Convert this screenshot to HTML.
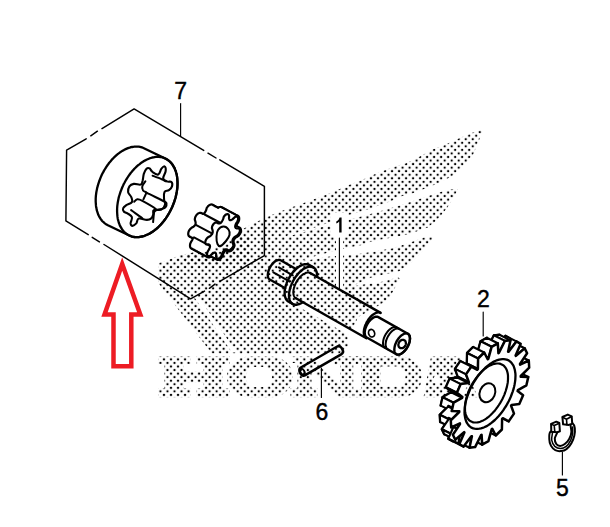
<!DOCTYPE html>
<html><head><meta charset="utf-8"><style>
html,body{margin:0;padding:0;background:#fff;width:610px;height:527px;overflow:hidden}
svg{display:block}
</style></head><body>
<svg width="610" height="527" viewBox="0 0 610 527">
<defs>
<pattern id="dots" patternUnits="userSpaceOnUse" x="6.09" y="0.73" width="7.017" height="7.102"><circle cx="0" cy="0" r="1.15" fill="#000"/><circle cx="7.017" cy="0" r="1.15" fill="#000"/><circle cx="0" cy="7.102" r="1.15" fill="#000"/><circle cx="7.017" cy="7.102" r="1.15" fill="#000"/><circle cx="3.5085" cy="3.551" r="1.15" fill="#000"/></pattern>
<mask id="wm" maskUnits="userSpaceOnUse" x="0" y="0" width="610" height="527">
<polygon points="481.0,131.5 473.0,134.2 456.9,140.9 444.6,146.6 434.2,150.4 417.0,159.8 406.6,164.6 400.0,166.5 379.7,173.7 362.6,181.3 345.5,188.0 330.4,194.6 315.2,200.3 300.0,206.0 277.4,214.2 264.2,219.8 249.0,227.4 242.0,231.4 232.0,239.6 209.0,252.7 192.8,254.3 179.7,256.8 166.6,262.5 160.0,264.2 159.5,282.0 212.5,352.0 338.0,352.5 347.0,347.0 346.0,336.0 352.0,326.0 357.0,316.0 373.0,307.0 387.0,299.0 398.0,279.0 379.5,284.0 370.0,285.0 340.0,290.0 370.0,276.3 381.4,273.5 398.5,269.7 409.8,262.1 421.2,250.7 431.0,238.0 423.1,239.3 408.0,245.0 392.8,249.8 377.6,252.6 355.8,255.9 330.0,258.0 310.0,261.5 287.0,264.0 310.0,256.0 330.0,250.5 345.2,246.8 360.4,243.8 370.0,240.3 379.5,238.4 394.7,235.5 411.7,231.7 427.0,226.0 436.4,218.5 445.9,207.0 451.6,197.6 456.0,190.0 440.8,193.5 430.4,197.0 415.2,202.0 400.0,207.0 390.7,209.6 375.5,214.2 355.8,219.5 330.0,226.5 310.0,232.0 290.0,237.5 272.0,241.0 290.0,233.0 310.0,227.5 330.0,220.5 345.2,214.2 360.4,210.4 375.5,205.0 390.7,199.7 400.0,195.0 411.4,192.1 426.6,186.4 438.0,181.7 451.2,175.0 462.6,164.6 472.1,153.2 475.9,143.7" fill="#fff" stroke="#fff" stroke-width="3" stroke-linejoin="round"/>
<path d="M158,356.5H191V364H158ZM164.5,356.5H184V397.2H164.5ZM158,388.5H191V397.2H158ZM181,371.5H204V382.5H181ZM196.5,356.5H230V364H196.5ZM203.5,356.5H222.5V397.2H203.5ZM196.5,388.5H230V397.2H196.5Z" fill="#fff"/>
<path d="M249,356.5H271A22,20.35 0 0 1 271,397.2H249A22,20.35 0 0 1 249,356.5Z" fill="#fff"/>
<path d="M297.5,356.5H311.5V397.2H297.5ZM290.5,388.5H317.5V397.2H290.5ZM297.5,356.5L312,356.5L353,397.2L339,397.2ZM340,356.5H353V397.2H340ZM333,356.5H361V364.5H333ZM292,356.5H311.5V363H292Z" fill="#fff"/>
<path d="M353.5,356.5H401A21,20.35 0 0 1 401,397.2H353.5Z" fill="#fff"/>
<path d="M431,356.5H460L478,397.2H423.5Z" fill="#fff"/>
<path d="M254,367H264A8,10 0 0 1 264,387H254A8,10 0 0 1 254,367Z" fill="#000"/>
<path d="M353.5,364H361V389H353.5Z M380.5,366.5H397A8.5,10 0 0 1 397,386.5H380.5Z" fill="#000"/>
<path d="M436,372L432,383H441Z" fill="#000"/>
<polygon points="194.5,297.5 198.5,297 236.5,352.5 232,352.5" fill="#000"/>
<polygon points="301.6,302.3 372.1,342.2 369.5,346.8 299.0,306.9" fill="#000"/>
<rect x="331" y="213" width="17" height="24" fill="#000"/>
<rect x="336" y="236" width="7" height="54" fill="#000"/>
</mask>
</defs>
<rect x="0" y="0" width="610" height="527" fill="url(#dots)" mask="url(#wm)"/>
<path d="M134.1,108.9 L203.7,150.4 M208,153.2 L216,158 M219.8,159.8 L264.4,186.4 M264.4,186.4 L264.4,255.6 M264.4,255.6 L219.8,281.4 M215,284.1 L209.4,288.3 M204.5,291.1 L190.6,298.8 M190.6,298.8 L104,244.5 M99.4,241.9 L92.2,237.3 M88.2,234.7 L65.9,220.9 M65.9,220.9 L66.6,150.2 M66.6,150.2 L86.2,138.8 M90.8,135.8 L97.4,131.2 M102,128.6 L134.1,108.9" stroke="#000" fill="none" stroke-width="1.45" stroke-linejoin="round" stroke-linecap="round" stroke-linecap="butt"/>
<line x1="180.6" y1="103.5" x2="180.6" y2="136.2" stroke="#000" fill="none" stroke-width="1.15" stroke-linejoin="round" stroke-linecap="round"/>
<path d="M95.7,200.2 L95.7,198.7 L95.8,197.1 L95.9,195.6 L96.1,194.1 L96.3,192.5 L96.6,190.9 L96.9,189.4 L97.2,187.8 L97.7,186.2 L98.1,184.7 L98.6,183.1 L99.1,181.5 L99.7,180.0 L100.3,178.4 L100.9,176.9 L101.6,175.3 L102.3,173.8 L103.1,172.4 L103.9,170.9 L104.7,169.5 L105.6,168.1 L106.5,166.7 L107.4,165.3 L108.4,164.0 L109.3,162.7 L110.4,161.5 L111.4,160.3 L112.4,159.1 L113.5,158.0 L114.6,156.9 L115.7,155.9 L116.8,154.9 L118.0,153.9 L119.1,153.1 L120.3,152.2 L121.5,151.4 L122.6,150.7 L123.8,150.1 L125.0,149.4 L126.2,148.9 L127.4,148.4 L128.6,147.9 L129.7,147.6 L130.9,147.2 L132.1,147.0 L133.2,146.8 L134.4,146.7 L135.5,146.6 L136.6,146.6 L137.7,146.6 L138.8,146.7 L139.9,146.9 L140.9,147.1 L141.9,147.4 L142.9,147.8 L143.9,148.2 L165.3,158.5 L166.2,159.0 L167.1,159.5 L168.0,160.1 L168.9,160.8 L169.7,161.4 L170.5,162.2 L171.2,163.0 L171.9,163.9 L172.6,164.8 L173.2,165.8 L173.8,166.8 L174.4,167.8 L174.9,168.9 L175.3,170.1 L175.8,171.3 L176.1,172.5 L176.5,173.8 L176.8,175.1 L177.0,176.4 L177.2,177.8 L177.3,179.2 L177.4,180.6 L177.5,182.1 L177.5,183.6 L177.5,185.0 L177.4,186.6 L177.3,188.1 L177.1,189.6 L176.9,191.2 L176.6,192.8 L176.3,194.3 L175.9,195.9 L175.6,197.5 L175.1,199.1 L174.6,200.6 L174.1,202.2 L173.5,203.7 L172.9,205.3 L172.3,206.8 L171.6,208.3 L170.8,209.8 L170.1,211.3 L169.3,212.8 L168.5,214.2 L167.6,215.6 L166.7,217.0 L165.8,218.4 L164.8,219.7 L163.8,221.0 L162.8,222.2 L161.8,223.4 L160.8,224.6 L159.7,225.7 L158.6,226.8 L157.5,227.8 L156.4,228.8 L155.2,229.8 L154.1,230.6 L152.9,231.5 L151.7,232.2 L150.6,233.0 L149.4,233.7 L148.2,234.3 L147.0,234.8 L145.8,235.3 L144.6,235.8 L143.5,236.1 L142.3,236.5 L141.1,236.7 L140.0,236.9 L138.8,237.1 L137.7,237.1 L136.6,237.1 L135.5,237.1 L134.4,237.0 L133.3,236.8 L132.3,236.6 L131.3,236.3 L130.3,235.9 L129.3,235.5 L107.9,225.2 L107.0,224.7 L106.1,224.2 L105.2,223.6 L104.3,222.9 L103.5,222.2 L102.7,221.5 L102.0,220.7 L101.3,219.8 L100.6,218.9 L100.0,217.9 L99.4,216.9 L98.8,215.8 L98.3,214.8 L97.9,213.6 L97.5,212.4 L97.1,211.2 L96.7,209.9 L96.5,208.6 L96.2,207.3 L96.0,205.9 L95.9,204.5 L95.8,203.1 L95.7,201.6Z" stroke="#000" fill="#fff" stroke-width="2.3" stroke-linejoin="round" stroke-linecap="round"/>
<path d="M171.6,208.3 L172.3,206.8 L172.9,205.3 L173.5,203.7 L174.1,202.2 L174.6,200.6 L175.1,199.0 L175.6,197.5 L176.0,195.9 L176.3,194.3 L176.6,192.7 L176.9,191.2 L177.1,189.6 L177.3,188.1 L177.4,186.6 L177.5,185.0 L177.5,183.5 L177.5,182.1 L177.4,180.6 L177.3,179.2 L177.2,177.8 L177.0,176.4 L176.8,175.1 L176.5,173.8 L176.1,172.5 L175.8,171.3 L175.3,170.1 L174.9,169.0 L174.4,167.8 L173.8,166.8 L173.2,165.8 L172.6,164.8 L171.9,163.9 L171.2,163.0 L170.5,162.2 L169.7,161.5 L168.9,160.7 L168.0,160.1 L167.1,159.5 L166.2,159.0 L165.3,158.5 L164.3,158.1 L163.3,157.7 L162.3,157.4 L161.3,157.2 L160.2,157.0 L159.1,156.9 L158.0,156.9 L156.9,156.9 L155.8,156.9 L154.6,157.1 L153.5,157.3 L152.3,157.5 L151.1,157.9 L150.0,158.2 L148.8,158.7 L147.6,159.2 L146.4,159.7 L145.2,160.4 L144.0,161.0 L142.9,161.8 L141.7,162.5 L140.5,163.4 L139.4,164.3 L138.2,165.2 L137.1,166.2 L136.0,167.2 L134.9,168.3 L133.8,169.4 L132.8,170.6 L131.8,171.8 L130.7,173.0 L129.8,174.3 L128.8,175.6 L127.9,177.0 L127.0,178.4 L126.1,179.8 L125.3,181.2 L124.5,182.7 L123.7,184.1 L123.0,185.7 L122.3,187.2 L121.7,188.7 L121.1,190.3 L120.5,191.8 L120.0,193.4 L119.5,195.0 L119.0,196.5 L118.6,198.1 L118.3,199.7 L118.0,201.3 L117.7,202.8 L117.5,204.4 L117.3,205.9 L117.2,207.4 L117.1,209.0 L117.1,210.5 L117.1,211.9 L117.2,213.4 L117.3,214.8 L117.4,216.2 L117.6,217.6 L117.8,218.9 L118.1,220.2 L118.5,221.5 L118.8,222.7 L119.3,223.9 L119.7,225.0 L120.2,226.2 L120.8,227.2 L121.4,228.2 L122.0,229.2 L122.7,230.1 L123.4,231.0 L124.1,231.8 L124.9,232.5 L125.7,233.3 L126.6,233.9 L127.5,234.5 L128.4,235.0 L129.3,235.5 L130.3,235.9 L131.3,236.3 L132.3,236.6 L133.3,236.8 L134.4,237.0 L135.5,237.1 L136.6,237.1 L137.7,237.1 L138.8,237.1 L140.0,236.9 L141.1,236.7 L142.3,236.5 L143.5,236.1 L144.6,235.8 L145.8,235.3 L147.0,234.8 L148.2,234.3 L149.4,233.6 L150.6,233.0 L151.7,232.2 L152.9,231.5 L154.1,230.6 L155.2,229.7 L156.4,228.8 L157.5,227.8 L158.6,226.8 L159.7,225.7 L160.8,224.6 L161.8,223.4 L162.8,222.2 L163.9,221.0 L164.8,219.7 L165.8,218.4 L166.7,217.0 L167.6,215.6 L168.5,214.2 L169.3,212.8 L170.1,211.3 L170.9,209.9 L171.6,208.3Z" stroke="#000" fill="none" stroke-width="2.3" stroke-linejoin="round" stroke-linecap="round"/>
<path d="M164.5,166.4 C165.4,166.8 166.0,168.4 165.7,170.8 C165.5,173.2 163.0,176.2 163.2,178.3 C163.5,180.4 165.4,180.7 167.0,181.4 C168.6,182.2 170.4,181.0 171.4,182.0 C172.4,183.0 172.5,184.8 172.0,186.4 C171.5,188.1 170.4,189.1 168.9,190.2 C167.4,191.3 165.4,190.2 164.5,192.1 C163.5,193.9 164.0,197.1 164.1,199.6 C164.2,202.1 165.7,202.6 165.1,204.6 C164.6,206.6 163.6,208.5 161.3,209.6 C159.1,210.7 155.5,209.2 153.8,210.2 C152.2,211.2 153.7,213.0 153.2,214.6 C152.7,216.2 152.6,217.3 151.3,218.4 C150.1,219.4 149.4,219.8 146.9,219.9 C144.4,219.9 140.9,217.9 138.8,218.6 C136.7,219.3 137.5,221.9 136.3,223.4 C135.0,224.8 133.7,225.9 132.5,225.9 C131.4,225.9 130.8,225.1 130.6,223.4 C130.5,221.6 132.5,219.1 131.9,217.1 C131.3,215.1 129.1,214.5 127.5,213.4 C125.9,212.2 124.6,212.5 123.8,211.5 C122.9,210.5 122.6,209.6 123.1,208.4 C123.6,207.1 124.5,206.5 126.3,205.2 C128.0,204.0 130.9,203.7 131.9,202.1 C132.9,200.5 132.0,199.1 131.3,197.1 C130.5,195.1 128.5,194.2 128.1,192.1 C127.8,189.9 128.3,188.1 129.4,186.4 C130.5,184.8 131.5,184.3 133.8,183.9 C136.0,183.5 138.9,185.2 140.7,184.6 C142.4,183.9 141.9,182.9 142.6,180.8 C143.2,178.7 143.1,176.3 143.8,173.9 C144.6,171.5 145.2,170.0 146.3,168.9 C147.4,167.8 148.2,167.6 149.4,168.3 C150.7,168.9 150.8,170.8 152.6,172.0 C154.3,173.3 156.5,175.2 158.2,174.5 C160.0,173.9 160.1,170.5 161.3,168.9 C162.6,167.3 163.6,166.0 164.5,166.4Z" stroke="#000" fill="none" stroke-width="2.1" stroke-linejoin="round" stroke-linecap="round"/>
<path d="M152.6,175.7 C154.2,176.3 159.6,178.3 161.8,179.3 C164.1,180.2 165.3,181.0 165.9,181.3" stroke="#000" fill="none" stroke-width="2.0" stroke-linejoin="round" stroke-linecap="round"/>
<path d="M145.4,181.3 C144.9,182.1 142.8,184.5 142.4,185.9 C141.9,187.4 142.2,188.9 142.9,190.1 C143.6,191.2 143.0,190.7 146.5,192.6 C150.0,194.5 160.6,199.5 163.9,201.3 C167.2,203.1 166.2,202.4 166.5,203.4 C166.7,204.4 166.2,206.5 165.4,207.5 C164.7,208.4 163.5,208.6 161.8,209.0 C160.2,209.5 156.7,209.9 155.7,210.1" stroke="#000" fill="none" stroke-width="2.0" stroke-linejoin="round" stroke-linecap="round"/>
<path d="M134.2,201.8 C134.7,201.4 135.9,199.5 137.2,199.3 C138.6,199.1 139.3,199.2 142.4,200.8 C145.4,202.4 153.7,207.1 155.7,209.0 C157.7,210.9 154.6,209.9 154.2,212.1 C153.7,214.3 153.3,220.4 153.1,222.1" stroke="#000" fill="none" stroke-width="2.0" stroke-linejoin="round" stroke-linecap="round"/>
<path d="M146.5,192.6 L143.4,199.3" stroke="#000" fill="none" stroke-width="2.0" stroke-linejoin="round" stroke-linecap="round"/>
<path d="M131.1,210.1 C131.8,210.6 133.3,211.8 135.2,213.1 C137.1,214.5 141.2,217.4 142.4,218.3" stroke="#000" fill="none" stroke-width="2.0" stroke-linejoin="round" stroke-linecap="round"/>
<path d="M216.5,233.6 L216.5,232.7 L216.5,232.0 L216.7,231.3 L216.9,230.6 L217.3,230.0 L217.8,229.4 L218.4,228.7 L219.2,228.1 L220.7,227.3 L221.9,226.4 L222.6,225.5 L223.2,224.6 L223.6,223.7 L223.8,222.8 L223.9,221.9 L223.8,221.2 L223.5,220.5 L222.9,220.0 L221.5,220.0 L220.5,219.9 L220.0,219.6 L219.6,219.3 L219.3,218.8 L219.2,218.4 L219.2,217.8 L219.3,217.1 L219.6,216.2 L220.0,215.2 L221.2,213.3 L221.9,211.8 L222.1,210.7 L222.1,209.8 L222.0,209.1 L221.7,208.5 L221.2,208.2 L220.6,208.0 L219.9,208.1 L219.0,208.5 L217.5,209.9 L216.4,210.9 L215.7,211.3 L215.0,211.6 L214.5,211.7 L214.1,211.7 L213.7,211.5 L213.4,211.1 L213.2,210.5 L213.0,209.8 L213.1,207.9 L212.9,206.6 L212.5,206.0 L212.0,205.7 L211.4,205.5 L210.7,205.7 L210.0,206.0 L209.3,206.5 L208.6,207.3 L207.8,208.3 L207.2,210.4 L206.6,211.8 L206.0,212.8 L205.5,213.5 L205.1,214.1 L204.6,214.5 L204.1,214.8 L203.5,215.0 L202.9,215.0 L202.2,215.0 L201.2,214.2 L200.2,213.9 L199.4,214.1 L198.6,214.5 L197.9,215.1 L197.3,215.8 L196.8,216.6 L196.3,217.5 L196.0,218.6 L195.9,219.6 L196.4,221.1 L196.7,222.2 L196.7,223.1 L196.7,223.8 L196.5,224.5 L196.3,225.2 L195.9,225.8 L195.4,226.4 L194.8,227.1 L194.0,227.7 L192.5,228.5 L191.3,229.4 L190.6,230.3 L190.0,231.2 L189.6,232.1 L189.4,233.0 L189.3,233.9 L189.4,234.6 L189.7,235.3 L190.3,235.8 L191.7,235.8 L192.7,235.9 L193.2,236.2 L193.6,236.5 L193.9,237.0 L194.0,237.4 L194.0,238.0 L193.9,238.7 L193.6,239.6 L193.2,240.6 L192.0,242.5 L191.3,244.0 L191.1,245.1 L191.1,246.0 L191.2,246.7 L191.5,247.3 L192.0,247.6 L192.6,247.8 L193.3,247.7 L194.2,247.3 L195.7,245.9 L196.8,244.9 L197.5,244.5 L198.2,244.2 L198.7,244.1 L199.1,244.1 L199.5,244.3 L199.8,244.7 L200.0,245.3 L200.2,246.0 L200.1,247.9 L200.3,249.2 L200.7,249.8 L201.2,250.1 L201.8,250.3 L202.5,250.1 L203.2,249.8 L203.9,249.3 L204.6,248.5 L205.4,247.5 L206.0,245.4 L206.6,244.0 L207.2,243.0 L207.7,242.3 L208.1,241.7 L208.6,241.3 L209.1,241.0 L209.7,240.8 L210.3,240.8 L211.0,240.8 L212.0,241.6 L213.0,241.9 L213.8,241.7 L214.6,241.3 L215.3,240.7 L215.9,240.0 L216.4,239.2 L216.9,238.3 L217.2,237.2 L217.3,236.2 L216.8,234.7Z" stroke="#000" stroke-width="4.4" fill="none" stroke-linejoin="round"/>
<path d="M218.1,234.5 L218.1,233.6 L218.1,232.8 L218.3,232.1 L218.5,231.5 L218.9,230.8 L219.4,230.2 L220.0,229.6 L220.8,228.9 L222.3,228.1 L223.5,227.3 L224.2,226.4 L224.8,225.4 L225.2,224.5 L225.4,223.6 L225.5,222.8 L225.4,222.0 L225.1,221.4 L224.5,220.8 L223.1,220.9 L222.1,220.7 L221.6,220.5 L221.2,220.1 L220.9,219.7 L220.8,219.2 L220.8,218.6 L220.9,217.9 L221.2,217.1 L221.6,216.0 L222.8,214.2 L223.5,212.7 L223.7,211.6 L223.7,210.7 L223.6,209.9 L223.3,209.4 L222.8,209.0 L222.2,208.9 L221.5,208.9 L220.6,209.3 L219.1,210.8 L218.0,211.7 L217.3,212.2 L216.6,212.5 L216.1,212.6 L215.7,212.5 L215.3,212.3 L215.0,212.0 L214.8,211.4 L214.6,210.6 L214.7,208.7 L214.5,207.5 L214.1,206.9 L213.6,206.5 L213.0,206.4 L212.3,206.5 L211.6,206.8 L210.9,207.4 L210.2,208.1 L209.4,209.2 L208.8,211.2 L208.2,212.7 L207.6,213.6 L207.1,214.4 L206.7,214.9 L206.2,215.4 L205.7,215.7 L205.1,215.8 L204.5,215.9 L203.8,215.8 L202.8,215.0 L201.8,214.8 L201.0,215.0 L200.2,215.4 L199.5,215.9 L198.9,216.6 L198.4,217.5 L197.9,218.4 L197.6,219.4 L197.5,220.5 L198.0,221.9 L198.3,223.0 L198.3,223.9 L198.3,224.7 L198.1,225.4 L197.9,226.0 L197.5,226.7 L197.0,227.3 L196.4,227.9 L195.6,228.6 L194.1,229.4 L192.9,230.2 L192.2,231.1 L191.6,232.1 L191.2,233.0 L191.0,233.9 L190.9,234.7 L191.0,235.5 L191.3,236.1 L191.9,236.7 L193.3,236.6 L194.3,236.8 L194.8,237.0 L195.2,237.4 L195.5,237.8 L195.6,238.3 L195.6,238.9 L195.5,239.6 L195.2,240.4 L194.8,241.5 L193.6,243.3 L192.9,244.8 L192.7,245.9 L192.7,246.8 L192.8,247.6 L193.1,248.1 L193.6,248.5 L194.2,248.6 L194.9,248.6 L195.8,248.2 L197.3,246.7 L198.4,245.8 L199.1,245.3 L199.8,245.0 L200.3,244.9 L200.7,245.0 L201.1,245.2 L201.4,245.5 L201.6,246.1 L201.8,246.9 L201.7,248.8 L201.9,250.0 L202.3,250.6 L202.8,251.0 L203.4,251.1 L204.1,251.0 L204.8,250.7 L205.5,250.1 L206.2,249.4 L207.0,248.3 L207.6,246.3 L208.2,244.8 L208.8,243.9 L209.3,243.1 L209.7,242.6 L210.2,242.1 L210.7,241.8 L211.3,241.7 L211.9,241.6 L212.6,241.7 L213.6,242.5 L214.6,242.7 L215.4,242.5 L216.2,242.1 L216.9,241.6 L217.5,240.9 L218.0,240.0 L218.5,239.1 L218.8,238.1 L218.9,237.0 L218.4,235.6Z" stroke="#000" stroke-width="4.4" fill="none" stroke-linejoin="round"/>
<path d="M219.7,235.3 L219.7,234.4 L219.7,233.7 L219.9,233.0 L220.1,232.3 L220.5,231.7 L221.0,231.1 L221.6,230.4 L222.4,229.8 L223.9,229.0 L225.1,228.1 L225.8,227.2 L226.4,226.3 L226.8,225.4 L227.0,224.5 L227.1,223.6 L227.0,222.9 L226.7,222.2 L226.1,221.7 L224.7,221.7 L223.7,221.6 L223.2,221.3 L222.8,221.0 L222.5,220.5 L222.4,220.1 L222.4,219.5 L222.5,218.8 L222.8,217.9 L223.2,216.9 L224.4,215.0 L225.1,213.5 L225.3,212.4 L225.3,211.5 L225.2,210.8 L224.9,210.2 L224.4,209.9 L223.8,209.7 L223.1,209.8 L222.2,210.2 L220.7,211.6 L219.6,212.6 L218.9,213.0 L218.2,213.3 L217.7,213.4 L217.3,213.4 L216.9,213.2 L216.6,212.8 L216.4,212.2 L216.2,211.5 L216.3,209.6 L216.1,208.3 L215.7,207.7 L215.2,207.4 L214.6,207.2 L213.9,207.4 L213.2,207.7 L212.5,208.2 L211.8,209.0 L211.0,210.0 L210.4,212.1 L209.8,213.5 L209.2,214.5 L208.7,215.2 L208.3,215.8 L207.8,216.2 L207.3,216.5 L206.7,216.7 L206.1,216.7 L205.4,216.7 L204.4,215.9 L203.4,215.6 L202.6,215.8 L201.8,216.2 L201.1,216.8 L200.5,217.5 L200.0,218.3 L199.5,219.2 L199.2,220.3 L199.1,221.3 L199.6,222.8 L199.9,223.9 L199.9,224.8 L199.9,225.5 L199.7,226.2 L199.5,226.9 L199.1,227.5 L198.6,228.1 L198.0,228.8 L197.2,229.4 L195.7,230.2 L194.5,231.1 L193.8,232.0 L193.2,232.9 L192.8,233.8 L192.6,234.7 L192.5,235.6 L192.6,236.3 L192.9,237.0 L193.5,237.5 L194.9,237.5 L195.9,237.6 L196.4,237.9 L196.8,238.2 L197.1,238.7 L197.2,239.1 L197.2,239.7 L197.1,240.4 L196.8,241.3 L196.4,242.3 L195.2,244.2 L194.5,245.7 L194.3,246.8 L194.3,247.7 L194.4,248.4 L194.7,249.0 L195.2,249.3 L195.8,249.5 L196.5,249.4 L197.4,249.0 L198.9,247.6 L200.0,246.6 L200.7,246.2 L201.4,245.9 L201.9,245.8 L202.3,245.8 L202.7,246.0 L203.0,246.4 L203.2,247.0 L203.4,247.7 L203.3,249.6 L203.5,250.9 L203.9,251.5 L204.4,251.8 L205.0,252.0 L205.7,251.8 L206.4,251.5 L207.1,251.0 L207.8,250.2 L208.6,249.2 L209.2,247.1 L209.8,245.7 L210.4,244.7 L210.9,244.0 L211.3,243.4 L211.8,243.0 L212.3,242.7 L212.9,242.5 L213.5,242.5 L214.2,242.5 L215.2,243.3 L216.2,243.6 L217.0,243.4 L217.8,243.0 L218.5,242.4 L219.1,241.7 L219.6,240.9 L220.1,240.0 L220.4,238.9 L220.5,237.9 L220.0,236.4Z" stroke="#000" stroke-width="4.4" fill="none" stroke-linejoin="round"/>
<path d="M221.3,236.2 L221.3,235.3 L221.3,234.5 L221.5,233.8 L221.7,233.2 L222.1,232.5 L222.6,231.9 L223.2,231.3 L224.0,230.6 L225.5,229.8 L226.7,229.0 L227.4,228.1 L228.0,227.1 L228.4,226.2 L228.6,225.3 L228.7,224.5 L228.6,223.7 L228.3,223.1 L227.7,222.5 L226.3,222.6 L225.3,222.4 L224.8,222.2 L224.4,221.8 L224.1,221.4 L224.0,220.9 L224.0,220.3 L224.1,219.6 L224.4,218.8 L224.8,217.7 L226.0,215.9 L226.7,214.4 L226.9,213.3 L226.9,212.4 L226.8,211.6 L226.5,211.1 L226.0,210.7 L225.4,210.6 L224.7,210.6 L223.8,211.0 L222.3,212.5 L221.2,213.4 L220.5,213.9 L219.8,214.2 L219.3,214.3 L218.9,214.2 L218.5,214.0 L218.2,213.7 L218.0,213.1 L217.8,212.3 L217.9,210.4 L217.7,209.2 L217.3,208.6 L216.8,208.2 L216.2,208.1 L215.5,208.2 L214.8,208.5 L214.1,209.1 L213.4,209.8 L212.6,210.9 L212.0,212.9 L211.4,214.4 L210.8,215.3 L210.3,216.1 L209.9,216.6 L209.4,217.1 L208.9,217.4 L208.3,217.5 L207.7,217.6 L207.0,217.5 L206.0,216.7 L205.0,216.5 L204.2,216.7 L203.4,217.1 L202.7,217.6 L202.1,218.3 L201.6,219.2 L201.1,220.1 L200.8,221.1 L200.7,222.2 L201.2,223.6 L201.5,224.7 L201.5,225.6 L201.5,226.4 L201.3,227.1 L201.1,227.7 L200.7,228.4 L200.2,229.0 L199.6,229.6 L198.8,230.3 L197.3,231.1 L196.1,231.9 L195.4,232.8 L194.8,233.8 L194.4,234.7 L194.2,235.6 L194.1,236.4 L194.2,237.2 L194.5,237.8 L195.1,238.4 L196.5,238.3 L197.5,238.5 L198.0,238.7 L198.4,239.1 L198.7,239.5 L198.8,240.0 L198.8,240.6 L198.7,241.3 L198.4,242.1 L198.0,243.2 L196.8,245.0 L196.1,246.5 L195.9,247.6 L195.9,248.5 L196.0,249.3 L196.3,249.8 L196.8,250.2 L197.4,250.3 L198.1,250.3 L199.0,249.9 L200.5,248.4 L201.6,247.5 L202.3,247.0 L203.0,246.7 L203.5,246.6 L203.9,246.7 L204.3,246.9 L204.6,247.2 L204.8,247.8 L205.0,248.6 L204.9,250.5 L205.1,251.7 L205.5,252.3 L206.0,252.7 L206.6,252.8 L207.3,252.7 L208.0,252.4 L208.7,251.8 L209.4,251.1 L210.2,250.0 L210.8,248.0 L211.4,246.5 L212.0,245.6 L212.5,244.8 L212.9,244.3 L213.4,243.8 L213.9,243.5 L214.5,243.4 L215.1,243.3 L215.8,243.4 L216.8,244.2 L217.8,244.4 L218.6,244.2 L219.4,243.8 L220.1,243.3 L220.7,242.6 L221.2,241.7 L221.7,240.8 L222.0,239.8 L222.1,238.7 L221.6,237.3Z" stroke="#000" stroke-width="4.4" fill="none" stroke-linejoin="round"/>
<path d="M222.9,237.0 L222.9,236.1 L222.9,235.4 L223.1,234.7 L223.3,234.0 L223.7,233.4 L224.2,232.8 L224.8,232.1 L225.6,231.5 L227.1,230.7 L228.3,229.8 L229.0,228.9 L229.6,228.0 L230.0,227.1 L230.2,226.2 L230.3,225.3 L230.2,224.6 L229.9,223.9 L229.3,223.4 L227.9,223.4 L226.9,223.3 L226.4,223.0 L226.0,222.7 L225.7,222.2 L225.6,221.8 L225.6,221.2 L225.7,220.5 L226.0,219.6 L226.4,218.6 L227.6,216.7 L228.3,215.2 L228.5,214.1 L228.5,213.2 L228.4,212.5 L228.1,211.9 L227.6,211.6 L227.0,211.4 L226.3,211.5 L225.4,211.9 L223.9,213.3 L222.8,214.3 L222.1,214.7 L221.4,215.0 L220.9,215.1 L220.5,215.1 L220.1,214.9 L219.8,214.5 L219.6,213.9 L219.4,213.2 L219.5,211.3 L219.3,210.0 L218.9,209.4 L218.4,209.1 L217.8,208.9 L217.1,209.1 L216.4,209.4 L215.7,209.9 L215.0,210.7 L214.2,211.7 L213.6,213.8 L213.0,215.2 L212.4,216.2 L211.9,216.9 L211.5,217.5 L211.0,217.9 L210.5,218.2 L209.9,218.4 L209.3,218.4 L208.6,218.4 L207.6,217.6 L206.6,217.3 L205.8,217.5 L205.0,217.9 L204.3,218.5 L203.7,219.2 L203.2,220.0 L202.7,220.9 L202.4,222.0 L202.3,223.0 L202.8,224.5 L203.1,225.6 L203.1,226.5 L203.1,227.2 L202.9,227.9 L202.7,228.6 L202.3,229.2 L201.8,229.8 L201.2,230.5 L200.4,231.1 L198.9,231.9 L197.7,232.8 L197.0,233.7 L196.4,234.6 L196.0,235.5 L195.8,236.4 L195.7,237.3 L195.8,238.0 L196.1,238.7 L196.7,239.2 L198.1,239.2 L199.1,239.3 L199.6,239.6 L200.0,239.9 L200.3,240.4 L200.4,240.8 L200.4,241.4 L200.3,242.1 L200.0,243.0 L199.6,244.0 L198.4,245.9 L197.7,247.4 L197.5,248.5 L197.5,249.4 L197.6,250.1 L197.9,250.7 L198.4,251.0 L199.0,251.2 L199.7,251.1 L200.6,250.7 L202.1,249.3 L203.2,248.3 L203.9,247.9 L204.6,247.6 L205.1,247.5 L205.5,247.5 L205.9,247.7 L206.2,248.1 L206.4,248.7 L206.6,249.4 L206.5,251.3 L206.7,252.6 L207.1,253.2 L207.6,253.5 L208.2,253.7 L208.9,253.5 L209.6,253.2 L210.3,252.7 L211.0,251.9 L211.8,250.9 L212.4,248.8 L213.0,247.4 L213.6,246.4 L214.1,245.7 L214.5,245.1 L215.0,244.7 L215.5,244.4 L216.1,244.2 L216.7,244.2 L217.4,244.2 L218.4,245.0 L219.4,245.3 L220.2,245.1 L221.0,244.7 L221.7,244.1 L222.3,243.4 L222.8,242.6 L223.3,241.7 L223.6,240.6 L223.7,239.6 L223.2,238.1Z" stroke="#000" stroke-width="4.4" fill="none" stroke-linejoin="round"/>
<path d="M224.5,237.9 L224.5,237.0 L224.5,236.2 L224.7,235.5 L224.9,234.9 L225.3,234.2 L225.8,233.6 L226.4,233.0 L227.2,232.3 L228.7,231.5 L229.9,230.7 L230.6,229.8 L231.2,228.8 L231.6,227.9 L231.8,227.0 L231.9,226.2 L231.8,225.4 L231.5,224.8 L230.9,224.2 L229.5,224.3 L228.5,224.1 L228.0,223.9 L227.6,223.5 L227.3,223.1 L227.2,222.6 L227.2,222.0 L227.3,221.3 L227.6,220.5 L228.0,219.4 L229.2,217.6 L229.9,216.1 L230.1,215.0 L230.1,214.1 L230.0,213.3 L229.7,212.8 L229.2,212.4 L228.6,212.3 L227.9,212.3 L227.0,212.7 L225.5,214.2 L224.4,215.1 L223.7,215.6 L223.0,215.9 L222.5,216.0 L222.1,215.9 L221.7,215.7 L221.4,215.4 L221.2,214.8 L221.0,214.0 L221.1,212.1 L220.9,210.9 L220.5,210.3 L220.0,209.9 L219.4,209.8 L218.7,209.9 L218.0,210.2 L217.3,210.8 L216.6,211.5 L215.8,212.6 L215.2,214.6 L214.6,216.1 L214.0,217.0 L213.5,217.8 L213.1,218.3 L212.6,218.8 L212.1,219.1 L211.5,219.2 L210.9,219.3 L210.2,219.2 L209.2,218.4 L208.2,218.2 L207.4,218.4 L206.6,218.8 L205.9,219.3 L205.3,220.0 L204.8,220.9 L204.3,221.8 L204.0,222.8 L203.9,223.9 L204.4,225.3 L204.7,226.4 L204.7,227.3 L204.7,228.1 L204.5,228.8 L204.3,229.4 L203.9,230.1 L203.4,230.7 L202.8,231.3 L202.0,232.0 L200.5,232.8 L199.3,233.6 L198.6,234.5 L198.0,235.5 L197.6,236.4 L197.4,237.3 L197.3,238.1 L197.4,238.9 L197.7,239.5 L198.3,240.1 L199.7,240.0 L200.7,240.2 L201.2,240.4 L201.6,240.8 L201.9,241.2 L202.0,241.7 L202.0,242.3 L201.9,243.0 L201.6,243.8 L201.2,244.9 L200.0,246.7 L199.3,248.2 L199.1,249.3 L199.1,250.2 L199.2,251.0 L199.5,251.5 L200.0,251.9 L200.6,252.0 L201.3,252.0 L202.2,251.6 L203.7,250.1 L204.8,249.2 L205.5,248.7 L206.2,248.4 L206.7,248.3 L207.1,248.4 L207.5,248.6 L207.8,248.9 L208.0,249.5 L208.2,250.3 L208.1,252.2 L208.3,253.4 L208.7,254.0 L209.2,254.4 L209.8,254.5 L210.5,254.4 L211.2,254.1 L211.9,253.5 L212.6,252.8 L213.4,251.7 L214.0,249.7 L214.6,248.2 L215.2,247.3 L215.7,246.5 L216.1,246.0 L216.6,245.5 L217.1,245.2 L217.7,245.1 L218.3,245.0 L219.0,245.1 L220.0,245.9 L221.0,246.1 L221.8,245.9 L222.6,245.5 L223.3,245.0 L223.9,244.3 L224.4,243.4 L224.9,242.5 L225.2,241.5 L225.3,240.4 L224.8,239.0Z" stroke="#000" stroke-width="4.4" fill="none" stroke-linejoin="round"/>
<path d="M226.1,238.7 L226.1,237.8 L226.1,237.1 L226.3,236.4 L226.5,235.7 L226.9,235.1 L227.4,234.5 L228.0,233.8 L228.8,233.2 L230.3,232.4 L231.5,231.5 L232.2,230.6 L232.8,229.7 L233.2,228.8 L233.4,227.9 L233.5,227.0 L233.4,226.3 L233.1,225.6 L232.5,225.1 L231.1,225.1 L230.1,225.0 L229.6,224.7 L229.2,224.4 L228.9,223.9 L228.8,223.5 L228.8,222.9 L228.9,222.2 L229.2,221.3 L229.6,220.3 L230.8,218.4 L231.5,216.9 L231.7,215.8 L231.7,214.9 L231.6,214.2 L231.3,213.6 L230.8,213.3 L230.2,213.1 L229.5,213.2 L228.6,213.6 L227.1,215.0 L226.0,216.0 L225.3,216.4 L224.6,216.7 L224.1,216.8 L223.7,216.8 L223.3,216.6 L223.0,216.2 L222.8,215.6 L222.6,214.9 L222.7,213.0 L222.5,211.7 L222.1,211.1 L221.6,210.8 L221.0,210.6 L220.3,210.8 L219.6,211.1 L218.9,211.6 L218.2,212.4 L217.4,213.4 L216.8,215.5 L216.2,216.9 L215.6,217.9 L215.1,218.6 L214.7,219.2 L214.2,219.6 L213.7,219.9 L213.1,220.1 L212.5,220.1 L211.8,220.1 L210.8,219.3 L209.8,219.0 L209.0,219.2 L208.2,219.6 L207.5,220.2 L206.9,220.9 L206.4,221.7 L205.9,222.6 L205.6,223.7 L205.5,224.7 L206.0,226.2 L206.3,227.3 L206.3,228.2 L206.3,228.9 L206.1,229.6 L205.9,230.3 L205.5,230.9 L205.0,231.5 L204.4,232.2 L203.6,232.8 L202.1,233.6 L200.9,234.5 L200.2,235.4 L199.6,236.3 L199.2,237.2 L199.0,238.1 L198.9,239.0 L199.0,239.7 L199.3,240.4 L199.9,240.9 L201.3,240.9 L202.3,241.0 L202.8,241.3 L203.2,241.6 L203.5,242.1 L203.6,242.5 L203.6,243.1 L203.5,243.8 L203.2,244.7 L202.8,245.7 L201.6,247.6 L200.9,249.1 L200.7,250.2 L200.7,251.1 L200.8,251.8 L201.1,252.4 L201.6,252.7 L202.2,252.9 L202.9,252.8 L203.8,252.4 L205.3,251.0 L206.4,250.0 L207.1,249.6 L207.8,249.3 L208.3,249.2 L208.7,249.2 L209.1,249.4 L209.4,249.8 L209.6,250.4 L209.8,251.1 L209.7,253.0 L209.9,254.3 L210.3,254.9 L210.8,255.2 L211.4,255.4 L212.1,255.2 L212.8,254.9 L213.5,254.4 L214.2,253.6 L215.0,252.6 L215.6,250.5 L216.2,249.1 L216.8,248.1 L217.3,247.4 L217.7,246.8 L218.2,246.4 L218.7,246.1 L219.3,245.9 L219.9,245.9 L220.6,245.9 L221.6,246.7 L222.6,247.0 L223.4,246.8 L224.2,246.4 L224.9,245.8 L225.5,245.1 L226.0,244.3 L226.5,243.4 L226.8,242.3 L226.9,241.3 L226.4,239.8Z" stroke="#000" stroke-width="4.4" fill="none" stroke-linejoin="round"/>
<path d="M227.7,239.6 L227.7,238.7 L227.7,237.9 L227.9,237.2 L228.1,236.6 L228.5,235.9 L229.0,235.3 L229.6,234.7 L230.4,234.0 L231.9,233.2 L233.1,232.4 L233.8,231.5 L234.4,230.5 L234.8,229.6 L235.0,228.7 L235.1,227.9 L235.0,227.1 L234.7,226.5 L234.1,225.9 L232.7,226.0 L231.7,225.8 L231.2,225.6 L230.8,225.2 L230.5,224.8 L230.4,224.3 L230.4,223.7 L230.5,223.0 L230.8,222.2 L231.2,221.1 L232.4,219.3 L233.1,217.8 L233.3,216.7 L233.3,215.8 L233.2,215.0 L232.9,214.5 L232.4,214.1 L231.8,214.0 L231.1,214.0 L230.2,214.4 L228.7,215.9 L227.6,216.8 L226.9,217.3 L226.2,217.6 L225.7,217.7 L225.3,217.6 L224.9,217.4 L224.6,217.1 L224.4,216.5 L224.2,215.7 L224.3,213.8 L224.1,212.6 L223.7,212.0 L223.2,211.6 L222.6,211.5 L221.9,211.6 L221.2,211.9 L220.5,212.5 L219.8,213.2 L219.0,214.3 L218.4,216.3 L217.8,217.8 L217.2,218.7 L216.7,219.5 L216.3,220.0 L215.8,220.5 L215.3,220.8 L214.7,220.9 L214.1,221.0 L213.4,220.9 L212.4,220.1 L211.4,219.9 L210.6,220.1 L209.8,220.5 L209.1,221.0 L208.5,221.7 L208.0,222.6 L207.5,223.5 L207.2,224.5 L207.1,225.6 L207.6,227.0 L207.9,228.1 L207.9,229.0 L207.9,229.8 L207.7,230.5 L207.5,231.1 L207.1,231.8 L206.6,232.4 L206.0,233.0 L205.2,233.7 L203.7,234.5 L202.5,235.3 L201.8,236.2 L201.2,237.2 L200.8,238.1 L200.6,239.0 L200.5,239.8 L200.6,240.6 L200.9,241.2 L201.5,241.8 L202.9,241.7 L203.9,241.9 L204.4,242.1 L204.8,242.5 L205.1,242.9 L205.2,243.4 L205.2,244.0 L205.1,244.7 L204.8,245.5 L204.4,246.6 L203.2,248.4 L202.5,249.9 L202.3,251.0 L202.3,251.9 L202.4,252.7 L202.7,253.2 L203.2,253.6 L203.8,253.7 L204.5,253.7 L205.4,253.3 L206.9,251.8 L208.0,250.9 L208.7,250.4 L209.4,250.1 L209.9,250.0 L210.3,250.1 L210.7,250.3 L211.0,250.6 L211.2,251.2 L211.4,252.0 L211.3,253.9 L211.5,255.1 L211.9,255.7 L212.4,256.1 L213.0,256.2 L213.7,256.1 L214.4,255.8 L215.1,255.2 L215.8,254.5 L216.6,253.4 L217.2,251.4 L217.8,249.9 L218.4,249.0 L218.9,248.2 L219.3,247.7 L219.8,247.2 L220.3,246.9 L220.9,246.8 L221.5,246.7 L222.2,246.8 L223.2,247.6 L224.2,247.8 L225.0,247.6 L225.8,247.2 L226.5,246.7 L227.1,246.0 L227.6,245.1 L228.1,244.2 L228.4,243.2 L228.5,242.1 L228.0,240.7Z" stroke="#000" stroke-width="4.4" fill="none" stroke-linejoin="round"/>
<path d="M229.3,240.4 L229.3,239.5 L229.3,238.8 L229.5,238.1 L229.7,237.4 L230.1,236.8 L230.6,236.2 L231.2,235.5 L232.0,234.9 L233.5,234.1 L234.7,233.2 L235.4,232.3 L236.0,231.4 L236.4,230.5 L236.6,229.6 L236.7,228.7 L236.6,228.0 L236.3,227.3 L235.7,226.8 L234.3,226.8 L233.3,226.7 L232.8,226.4 L232.4,226.1 L232.1,225.6 L232.0,225.2 L232.0,224.6 L232.1,223.9 L232.4,223.0 L232.8,222.0 L234.0,220.1 L234.7,218.6 L234.9,217.5 L234.9,216.6 L234.8,215.9 L234.5,215.3 L234.0,215.0 L233.4,214.8 L232.7,214.9 L231.8,215.3 L230.3,216.7 L229.2,217.7 L228.5,218.1 L227.8,218.4 L227.3,218.5 L226.9,218.5 L226.5,218.3 L226.2,217.9 L226.0,217.3 L225.8,216.6 L225.9,214.7 L225.7,213.4 L225.3,212.8 L224.8,212.5 L224.2,212.3 L223.5,212.5 L222.8,212.8 L222.1,213.3 L221.4,214.1 L220.6,215.1 L220.0,217.2 L219.4,218.6 L218.8,219.6 L218.3,220.3 L217.9,220.9 L217.4,221.3 L216.9,221.6 L216.3,221.8 L215.7,221.8 L215.0,221.8 L214.0,221.0 L213.0,220.7 L212.2,220.9 L211.4,221.3 L210.7,221.9 L210.1,222.6 L209.6,223.4 L209.1,224.3 L208.8,225.4 L208.7,226.4 L209.2,227.9 L209.5,229.0 L209.5,229.9 L209.5,230.6 L209.3,231.3 L209.1,232.0 L208.7,232.6 L208.2,233.2 L207.6,233.9 L206.8,234.5 L205.3,235.3 L204.1,236.2 L203.4,237.1 L202.8,238.0 L202.4,238.9 L202.2,239.8 L202.1,240.7 L202.2,241.4 L202.5,242.1 L203.1,242.6 L204.5,242.6 L205.5,242.7 L206.0,243.0 L206.4,243.3 L206.7,243.8 L206.8,244.2 L206.8,244.8 L206.7,245.5 L206.4,246.4 L206.0,247.4 L204.8,249.3 L204.1,250.8 L203.9,251.9 L203.9,252.8 L204.0,253.5 L204.3,254.1 L204.8,254.4 L205.4,254.6 L206.1,254.5 L207.0,254.1 L208.5,252.7 L209.6,251.7 L210.3,251.3 L211.0,251.0 L211.5,250.9 L211.9,250.9 L212.3,251.1 L212.6,251.5 L212.8,252.1 L213.0,252.8 L212.9,254.7 L213.1,256.0 L213.5,256.6 L214.0,256.9 L214.6,257.1 L215.3,256.9 L216.0,256.6 L216.7,256.1 L217.4,255.3 L218.2,254.3 L218.8,252.2 L219.4,250.8 L220.0,249.8 L220.5,249.1 L220.9,248.5 L221.4,248.1 L221.9,247.8 L222.5,247.6 L223.1,247.6 L223.8,247.6 L224.8,248.4 L225.8,248.7 L226.6,248.5 L227.4,248.1 L228.1,247.5 L228.7,246.8 L229.2,246.0 L229.7,245.1 L230.0,244.0 L230.1,243.0 L229.6,241.5Z" stroke="#000" stroke-width="4.4" fill="none" stroke-linejoin="round"/>
<path d="M230.9,241.3 L230.9,240.4 L230.9,239.6 L231.1,238.9 L231.3,238.3 L231.7,237.6 L232.2,237.0 L232.8,236.4 L233.6,235.7 L235.1,234.9 L236.3,234.1 L237.0,233.2 L237.6,232.2 L238.0,231.3 L238.2,230.4 L238.3,229.6 L238.2,228.8 L237.9,228.2 L237.3,227.6 L235.9,227.7 L234.9,227.5 L234.4,227.3 L234.0,226.9 L233.7,226.5 L233.6,226.0 L233.6,225.4 L233.7,224.7 L234.0,223.9 L234.4,222.8 L235.6,221.0 L236.3,219.5 L236.5,218.4 L236.5,217.5 L236.4,216.7 L236.1,216.2 L235.6,215.8 L235.0,215.7 L234.3,215.7 L233.4,216.1 L231.9,217.6 L230.8,218.5 L230.1,219.0 L229.4,219.3 L228.9,219.4 L228.5,219.3 L228.1,219.1 L227.8,218.8 L227.6,218.2 L227.4,217.4 L227.5,215.5 L227.3,214.3 L226.9,213.7 L226.4,213.3 L225.8,213.2 L225.1,213.3 L224.4,213.6 L223.7,214.2 L223.0,214.9 L222.2,216.0 L221.6,218.0 L221.0,219.5 L220.4,220.4 L219.9,221.2 L219.5,221.7 L219.0,222.2 L218.5,222.5 L217.9,222.6 L217.3,222.7 L216.6,222.6 L215.6,221.8 L214.6,221.6 L213.8,221.8 L213.0,222.2 L212.3,222.7 L211.7,223.4 L211.2,224.3 L210.7,225.2 L210.4,226.2 L210.3,227.3 L210.8,228.7 L211.1,229.8 L211.1,230.7 L211.1,231.5 L210.9,232.2 L210.7,232.8 L210.3,233.5 L209.8,234.1 L209.2,234.7 L208.4,235.4 L206.9,236.2 L205.7,237.0 L205.0,237.9 L204.4,238.9 L204.0,239.8 L203.8,240.7 L203.7,241.5 L203.8,242.3 L204.1,242.9 L204.7,243.5 L206.1,243.4 L207.1,243.6 L207.6,243.8 L208.0,244.2 L208.3,244.6 L208.4,245.1 L208.4,245.7 L208.3,246.4 L208.0,247.2 L207.6,248.3 L206.4,250.1 L205.7,251.6 L205.5,252.7 L205.5,253.6 L205.6,254.4 L205.9,254.9 L206.4,255.3 L207.0,255.4 L207.7,255.4 L208.6,255.0 L210.1,253.5 L211.2,252.6 L211.9,252.1 L212.6,251.8 L213.1,251.7 L213.5,251.8 L213.9,252.0 L214.2,252.3 L214.4,252.9 L214.6,253.7 L214.5,255.6 L214.7,256.8 L215.1,257.4 L215.6,257.8 L216.2,257.9 L216.9,257.8 L217.6,257.5 L218.3,256.9 L219.0,256.2 L219.8,255.1 L220.4,253.1 L221.0,251.6 L221.6,250.7 L222.1,249.9 L222.5,249.4 L223.0,248.9 L223.5,248.6 L224.1,248.5 L224.7,248.4 L225.4,248.5 L226.4,249.3 L227.4,249.5 L228.2,249.3 L229.0,248.9 L229.7,248.4 L230.3,247.7 L230.8,246.8 L231.3,245.9 L231.6,244.9 L231.7,243.8 L231.2,242.4Z" stroke="#000" stroke-width="4.4" fill="none" stroke-linejoin="round"/>
<path d="M232.5,242.1 L232.5,241.2 L232.5,240.5 L232.7,239.8 L232.9,239.1 L233.3,238.5 L233.8,237.9 L234.4,237.2 L235.2,236.6 L236.7,235.8 L237.9,234.9 L238.6,234.0 L239.2,233.1 L239.6,232.2 L239.8,231.3 L239.9,230.4 L239.8,229.7 L239.5,229.0 L238.9,228.5 L237.5,228.5 L236.5,228.4 L236.0,228.1 L235.6,227.8 L235.3,227.3 L235.2,226.9 L235.2,226.3 L235.3,225.6 L235.6,224.7 L236.0,223.7 L237.2,221.8 L237.9,220.3 L238.1,219.2 L238.1,218.3 L238.0,217.6 L237.7,217.0 L237.2,216.7 L236.6,216.5 L235.9,216.6 L235.0,217.0 L233.5,218.4 L232.4,219.4 L231.7,219.8 L231.0,220.1 L230.5,220.2 L230.1,220.2 L229.7,220.0 L229.4,219.6 L229.2,219.0 L229.0,218.3 L229.1,216.4 L228.9,215.1 L228.5,214.5 L228.0,214.2 L227.4,214.0 L226.7,214.2 L226.0,214.5 L225.3,215.0 L224.6,215.8 L223.8,216.8 L223.2,218.9 L222.6,220.3 L222.0,221.3 L221.5,222.0 L221.1,222.6 L220.6,223.0 L220.1,223.3 L219.5,223.5 L218.9,223.5 L218.2,223.5 L217.2,222.7 L216.2,222.4 L215.4,222.6 L214.6,223.0 L213.9,223.6 L213.3,224.3 L212.8,225.1 L212.3,226.0 L212.0,227.1 L211.9,228.1 L212.4,229.6 L212.7,230.7 L212.7,231.6 L212.7,232.3 L212.5,233.0 L212.3,233.7 L211.9,234.3 L211.4,234.9 L210.8,235.6 L210.0,236.2 L208.5,237.0 L207.3,237.9 L206.6,238.8 L206.0,239.7 L205.6,240.6 L205.4,241.5 L205.3,242.4 L205.4,243.1 L205.7,243.8 L206.3,244.3 L207.7,244.3 L208.7,244.4 L209.2,244.7 L209.6,245.0 L209.9,245.5 L210.0,245.9 L210.0,246.5 L209.9,247.2 L209.6,248.1 L209.2,249.1 L208.0,251.0 L207.3,252.5 L207.1,253.6 L207.1,254.5 L207.2,255.2 L207.5,255.8 L208.0,256.1 L208.6,256.3 L209.3,256.2 L210.2,255.8 L211.7,254.4 L212.8,253.4 L213.5,253.0 L214.2,252.7 L214.7,252.6 L215.1,252.6 L215.5,252.8 L215.8,253.2 L216.0,253.8 L216.2,254.5 L216.1,256.4 L216.3,257.7 L216.7,258.3 L217.2,258.6 L217.8,258.8 L218.5,258.6 L219.2,258.3 L219.9,257.8 L220.6,257.0 L221.4,256.0 L222.0,253.9 L222.6,252.5 L223.2,251.5 L223.7,250.8 L224.1,250.2 L224.6,249.8 L225.1,249.5 L225.7,249.3 L226.3,249.3 L227.0,249.3 L228.0,250.1 L229.0,250.4 L229.8,250.2 L230.6,249.8 L231.3,249.2 L231.9,248.5 L232.4,247.7 L232.9,246.8 L233.2,245.7 L233.3,244.7 L232.8,243.2Z" stroke="#000" stroke-width="4.4" fill="none" stroke-linejoin="round"/>
<path d="M216.5,233.6 L216.5,232.7 L216.5,232.0 L216.7,231.3 L216.9,230.6 L217.3,230.0 L217.8,229.4 L218.4,228.7 L219.2,228.1 L220.7,227.3 L221.9,226.4 L222.6,225.5 L223.2,224.6 L223.6,223.7 L223.8,222.8 L223.9,221.9 L223.8,221.2 L223.5,220.5 L222.9,220.0 L221.5,220.0 L220.5,219.9 L220.0,219.6 L219.6,219.3 L219.3,218.8 L219.2,218.4 L219.2,217.8 L219.3,217.1 L219.6,216.2 L220.0,215.2 L221.2,213.3 L221.9,211.8 L222.1,210.7 L222.1,209.8 L222.0,209.1 L221.7,208.5 L221.2,208.2 L220.6,208.0 L219.9,208.1 L219.0,208.5 L217.5,209.9 L216.4,210.9 L215.7,211.3 L215.0,211.6 L214.5,211.7 L214.1,211.7 L213.7,211.5 L213.4,211.1 L213.2,210.5 L213.0,209.8 L213.1,207.9 L212.9,206.6 L212.5,206.0 L212.0,205.7 L211.4,205.5 L210.7,205.7 L210.0,206.0 L209.3,206.5 L208.6,207.3 L207.8,208.3 L207.2,210.4 L206.6,211.8 L206.0,212.8 L205.5,213.5 L205.1,214.1 L204.6,214.5 L204.1,214.8 L203.5,215.0 L202.9,215.0 L202.2,215.0 L201.2,214.2 L200.2,213.9 L199.4,214.1 L198.6,214.5 L197.9,215.1 L197.3,215.8 L196.8,216.6 L196.3,217.5 L196.0,218.6 L195.9,219.6 L196.4,221.1 L196.7,222.2 L196.7,223.1 L196.7,223.8 L196.5,224.5 L196.3,225.2 L195.9,225.8 L195.4,226.4 L194.8,227.1 L194.0,227.7 L192.5,228.5 L191.3,229.4 L190.6,230.3 L190.0,231.2 L189.6,232.1 L189.4,233.0 L189.3,233.9 L189.4,234.6 L189.7,235.3 L190.3,235.8 L191.7,235.8 L192.7,235.9 L193.2,236.2 L193.6,236.5 L193.9,237.0 L194.0,237.4 L194.0,238.0 L193.9,238.7 L193.6,239.6 L193.2,240.6 L192.0,242.5 L191.3,244.0 L191.1,245.1 L191.1,246.0 L191.2,246.7 L191.5,247.3 L192.0,247.6 L192.6,247.8 L193.3,247.7 L194.2,247.3 L195.7,245.9 L196.8,244.9 L197.5,244.5 L198.2,244.2 L198.7,244.1 L199.1,244.1 L199.5,244.3 L199.8,244.7 L200.0,245.3 L200.2,246.0 L200.1,247.9 L200.3,249.2 L200.7,249.8 L201.2,250.1 L201.8,250.3 L202.5,250.1 L203.2,249.8 L203.9,249.3 L204.6,248.5 L205.4,247.5 L206.0,245.4 L206.6,244.0 L207.2,243.0 L207.7,242.3 L208.1,241.7 L208.6,241.3 L209.1,241.0 L209.7,240.8 L210.3,240.8 L211.0,240.8 L212.0,241.6 L213.0,241.9 L213.8,241.7 L214.6,241.3 L215.3,240.7 L215.9,240.0 L216.4,239.2 L216.9,238.3 L217.2,237.2 L217.3,236.2 L216.8,234.7Z" fill="#fff"/>
<path d="M218.1,234.5 L218.1,233.6 L218.1,232.8 L218.3,232.1 L218.5,231.5 L218.9,230.8 L219.4,230.2 L220.0,229.6 L220.8,228.9 L222.3,228.1 L223.5,227.3 L224.2,226.4 L224.8,225.4 L225.2,224.5 L225.4,223.6 L225.5,222.8 L225.4,222.0 L225.1,221.4 L224.5,220.8 L223.1,220.9 L222.1,220.7 L221.6,220.5 L221.2,220.1 L220.9,219.7 L220.8,219.2 L220.8,218.6 L220.9,217.9 L221.2,217.1 L221.6,216.0 L222.8,214.2 L223.5,212.7 L223.7,211.6 L223.7,210.7 L223.6,209.9 L223.3,209.4 L222.8,209.0 L222.2,208.9 L221.5,208.9 L220.6,209.3 L219.1,210.8 L218.0,211.7 L217.3,212.2 L216.6,212.5 L216.1,212.6 L215.7,212.5 L215.3,212.3 L215.0,212.0 L214.8,211.4 L214.6,210.6 L214.7,208.7 L214.5,207.5 L214.1,206.9 L213.6,206.5 L213.0,206.4 L212.3,206.5 L211.6,206.8 L210.9,207.4 L210.2,208.1 L209.4,209.2 L208.8,211.2 L208.2,212.7 L207.6,213.6 L207.1,214.4 L206.7,214.9 L206.2,215.4 L205.7,215.7 L205.1,215.8 L204.5,215.9 L203.8,215.8 L202.8,215.0 L201.8,214.8 L201.0,215.0 L200.2,215.4 L199.5,215.9 L198.9,216.6 L198.4,217.5 L197.9,218.4 L197.6,219.4 L197.5,220.5 L198.0,221.9 L198.3,223.0 L198.3,223.9 L198.3,224.7 L198.1,225.4 L197.9,226.0 L197.5,226.7 L197.0,227.3 L196.4,227.9 L195.6,228.6 L194.1,229.4 L192.9,230.2 L192.2,231.1 L191.6,232.1 L191.2,233.0 L191.0,233.9 L190.9,234.7 L191.0,235.5 L191.3,236.1 L191.9,236.7 L193.3,236.6 L194.3,236.8 L194.8,237.0 L195.2,237.4 L195.5,237.8 L195.6,238.3 L195.6,238.9 L195.5,239.6 L195.2,240.4 L194.8,241.5 L193.6,243.3 L192.9,244.8 L192.7,245.9 L192.7,246.8 L192.8,247.6 L193.1,248.1 L193.6,248.5 L194.2,248.6 L194.9,248.6 L195.8,248.2 L197.3,246.7 L198.4,245.8 L199.1,245.3 L199.8,245.0 L200.3,244.9 L200.7,245.0 L201.1,245.2 L201.4,245.5 L201.6,246.1 L201.8,246.9 L201.7,248.8 L201.9,250.0 L202.3,250.6 L202.8,251.0 L203.4,251.1 L204.1,251.0 L204.8,250.7 L205.5,250.1 L206.2,249.4 L207.0,248.3 L207.6,246.3 L208.2,244.8 L208.8,243.9 L209.3,243.1 L209.7,242.6 L210.2,242.1 L210.7,241.8 L211.3,241.7 L211.9,241.6 L212.6,241.7 L213.6,242.5 L214.6,242.7 L215.4,242.5 L216.2,242.1 L216.9,241.6 L217.5,240.9 L218.0,240.0 L218.5,239.1 L218.8,238.1 L218.9,237.0 L218.4,235.6Z" fill="#fff"/>
<path d="M219.7,235.3 L219.7,234.4 L219.7,233.7 L219.9,233.0 L220.1,232.3 L220.5,231.7 L221.0,231.1 L221.6,230.4 L222.4,229.8 L223.9,229.0 L225.1,228.1 L225.8,227.2 L226.4,226.3 L226.8,225.4 L227.0,224.5 L227.1,223.6 L227.0,222.9 L226.7,222.2 L226.1,221.7 L224.7,221.7 L223.7,221.6 L223.2,221.3 L222.8,221.0 L222.5,220.5 L222.4,220.1 L222.4,219.5 L222.5,218.8 L222.8,217.9 L223.2,216.9 L224.4,215.0 L225.1,213.5 L225.3,212.4 L225.3,211.5 L225.2,210.8 L224.9,210.2 L224.4,209.9 L223.8,209.7 L223.1,209.8 L222.2,210.2 L220.7,211.6 L219.6,212.6 L218.9,213.0 L218.2,213.3 L217.7,213.4 L217.3,213.4 L216.9,213.2 L216.6,212.8 L216.4,212.2 L216.2,211.5 L216.3,209.6 L216.1,208.3 L215.7,207.7 L215.2,207.4 L214.6,207.2 L213.9,207.4 L213.2,207.7 L212.5,208.2 L211.8,209.0 L211.0,210.0 L210.4,212.1 L209.8,213.5 L209.2,214.5 L208.7,215.2 L208.3,215.8 L207.8,216.2 L207.3,216.5 L206.7,216.7 L206.1,216.7 L205.4,216.7 L204.4,215.9 L203.4,215.6 L202.6,215.8 L201.8,216.2 L201.1,216.8 L200.5,217.5 L200.0,218.3 L199.5,219.2 L199.2,220.3 L199.1,221.3 L199.6,222.8 L199.9,223.9 L199.9,224.8 L199.9,225.5 L199.7,226.2 L199.5,226.9 L199.1,227.5 L198.6,228.1 L198.0,228.8 L197.2,229.4 L195.7,230.2 L194.5,231.1 L193.8,232.0 L193.2,232.9 L192.8,233.8 L192.6,234.7 L192.5,235.6 L192.6,236.3 L192.9,237.0 L193.5,237.5 L194.9,237.5 L195.9,237.6 L196.4,237.9 L196.8,238.2 L197.1,238.7 L197.2,239.1 L197.2,239.7 L197.1,240.4 L196.8,241.3 L196.4,242.3 L195.2,244.2 L194.5,245.7 L194.3,246.8 L194.3,247.7 L194.4,248.4 L194.7,249.0 L195.2,249.3 L195.8,249.5 L196.5,249.4 L197.4,249.0 L198.9,247.6 L200.0,246.6 L200.7,246.2 L201.4,245.9 L201.9,245.8 L202.3,245.8 L202.7,246.0 L203.0,246.4 L203.2,247.0 L203.4,247.7 L203.3,249.6 L203.5,250.9 L203.9,251.5 L204.4,251.8 L205.0,252.0 L205.7,251.8 L206.4,251.5 L207.1,251.0 L207.8,250.2 L208.6,249.2 L209.2,247.1 L209.8,245.7 L210.4,244.7 L210.9,244.0 L211.3,243.4 L211.8,243.0 L212.3,242.7 L212.9,242.5 L213.5,242.5 L214.2,242.5 L215.2,243.3 L216.2,243.6 L217.0,243.4 L217.8,243.0 L218.5,242.4 L219.1,241.7 L219.6,240.9 L220.1,240.0 L220.4,238.9 L220.5,237.9 L220.0,236.4Z" fill="#fff"/>
<path d="M221.3,236.2 L221.3,235.3 L221.3,234.5 L221.5,233.8 L221.7,233.2 L222.1,232.5 L222.6,231.9 L223.2,231.3 L224.0,230.6 L225.5,229.8 L226.7,229.0 L227.4,228.1 L228.0,227.1 L228.4,226.2 L228.6,225.3 L228.7,224.5 L228.6,223.7 L228.3,223.1 L227.7,222.5 L226.3,222.6 L225.3,222.4 L224.8,222.2 L224.4,221.8 L224.1,221.4 L224.0,220.9 L224.0,220.3 L224.1,219.6 L224.4,218.8 L224.8,217.7 L226.0,215.9 L226.7,214.4 L226.9,213.3 L226.9,212.4 L226.8,211.6 L226.5,211.1 L226.0,210.7 L225.4,210.6 L224.7,210.6 L223.8,211.0 L222.3,212.5 L221.2,213.4 L220.5,213.9 L219.8,214.2 L219.3,214.3 L218.9,214.2 L218.5,214.0 L218.2,213.7 L218.0,213.1 L217.8,212.3 L217.9,210.4 L217.7,209.2 L217.3,208.6 L216.8,208.2 L216.2,208.1 L215.5,208.2 L214.8,208.5 L214.1,209.1 L213.4,209.8 L212.6,210.9 L212.0,212.9 L211.4,214.4 L210.8,215.3 L210.3,216.1 L209.9,216.6 L209.4,217.1 L208.9,217.4 L208.3,217.5 L207.7,217.6 L207.0,217.5 L206.0,216.7 L205.0,216.5 L204.2,216.7 L203.4,217.1 L202.7,217.6 L202.1,218.3 L201.6,219.2 L201.1,220.1 L200.8,221.1 L200.7,222.2 L201.2,223.6 L201.5,224.7 L201.5,225.6 L201.5,226.4 L201.3,227.1 L201.1,227.7 L200.7,228.4 L200.2,229.0 L199.6,229.6 L198.8,230.3 L197.3,231.1 L196.1,231.9 L195.4,232.8 L194.8,233.8 L194.4,234.7 L194.2,235.6 L194.1,236.4 L194.2,237.2 L194.5,237.8 L195.1,238.4 L196.5,238.3 L197.5,238.5 L198.0,238.7 L198.4,239.1 L198.7,239.5 L198.8,240.0 L198.8,240.6 L198.7,241.3 L198.4,242.1 L198.0,243.2 L196.8,245.0 L196.1,246.5 L195.9,247.6 L195.9,248.5 L196.0,249.3 L196.3,249.8 L196.8,250.2 L197.4,250.3 L198.1,250.3 L199.0,249.9 L200.5,248.4 L201.6,247.5 L202.3,247.0 L203.0,246.7 L203.5,246.6 L203.9,246.7 L204.3,246.9 L204.6,247.2 L204.8,247.8 L205.0,248.6 L204.9,250.5 L205.1,251.7 L205.5,252.3 L206.0,252.7 L206.6,252.8 L207.3,252.7 L208.0,252.4 L208.7,251.8 L209.4,251.1 L210.2,250.0 L210.8,248.0 L211.4,246.5 L212.0,245.6 L212.5,244.8 L212.9,244.3 L213.4,243.8 L213.9,243.5 L214.5,243.4 L215.1,243.3 L215.8,243.4 L216.8,244.2 L217.8,244.4 L218.6,244.2 L219.4,243.8 L220.1,243.3 L220.7,242.6 L221.2,241.7 L221.7,240.8 L222.0,239.8 L222.1,238.7 L221.6,237.3Z" fill="#fff"/>
<path d="M222.9,237.0 L222.9,236.1 L222.9,235.4 L223.1,234.7 L223.3,234.0 L223.7,233.4 L224.2,232.8 L224.8,232.1 L225.6,231.5 L227.1,230.7 L228.3,229.8 L229.0,228.9 L229.6,228.0 L230.0,227.1 L230.2,226.2 L230.3,225.3 L230.2,224.6 L229.9,223.9 L229.3,223.4 L227.9,223.4 L226.9,223.3 L226.4,223.0 L226.0,222.7 L225.7,222.2 L225.6,221.8 L225.6,221.2 L225.7,220.5 L226.0,219.6 L226.4,218.6 L227.6,216.7 L228.3,215.2 L228.5,214.1 L228.5,213.2 L228.4,212.5 L228.1,211.9 L227.6,211.6 L227.0,211.4 L226.3,211.5 L225.4,211.9 L223.9,213.3 L222.8,214.3 L222.1,214.7 L221.4,215.0 L220.9,215.1 L220.5,215.1 L220.1,214.9 L219.8,214.5 L219.6,213.9 L219.4,213.2 L219.5,211.3 L219.3,210.0 L218.9,209.4 L218.4,209.1 L217.8,208.9 L217.1,209.1 L216.4,209.4 L215.7,209.9 L215.0,210.7 L214.2,211.7 L213.6,213.8 L213.0,215.2 L212.4,216.2 L211.9,216.9 L211.5,217.5 L211.0,217.9 L210.5,218.2 L209.9,218.4 L209.3,218.4 L208.6,218.4 L207.6,217.6 L206.6,217.3 L205.8,217.5 L205.0,217.9 L204.3,218.5 L203.7,219.2 L203.2,220.0 L202.7,220.9 L202.4,222.0 L202.3,223.0 L202.8,224.5 L203.1,225.6 L203.1,226.5 L203.1,227.2 L202.9,227.9 L202.7,228.6 L202.3,229.2 L201.8,229.8 L201.2,230.5 L200.4,231.1 L198.9,231.9 L197.7,232.8 L197.0,233.7 L196.4,234.6 L196.0,235.5 L195.8,236.4 L195.7,237.3 L195.8,238.0 L196.1,238.7 L196.7,239.2 L198.1,239.2 L199.1,239.3 L199.6,239.6 L200.0,239.9 L200.3,240.4 L200.4,240.8 L200.4,241.4 L200.3,242.1 L200.0,243.0 L199.6,244.0 L198.4,245.9 L197.7,247.4 L197.5,248.5 L197.5,249.4 L197.6,250.1 L197.9,250.7 L198.4,251.0 L199.0,251.2 L199.7,251.1 L200.6,250.7 L202.1,249.3 L203.2,248.3 L203.9,247.9 L204.6,247.6 L205.1,247.5 L205.5,247.5 L205.9,247.7 L206.2,248.1 L206.4,248.7 L206.6,249.4 L206.5,251.3 L206.7,252.6 L207.1,253.2 L207.6,253.5 L208.2,253.7 L208.9,253.5 L209.6,253.2 L210.3,252.7 L211.0,251.9 L211.8,250.9 L212.4,248.8 L213.0,247.4 L213.6,246.4 L214.1,245.7 L214.5,245.1 L215.0,244.7 L215.5,244.4 L216.1,244.2 L216.7,244.2 L217.4,244.2 L218.4,245.0 L219.4,245.3 L220.2,245.1 L221.0,244.7 L221.7,244.1 L222.3,243.4 L222.8,242.6 L223.3,241.7 L223.6,240.6 L223.7,239.6 L223.2,238.1Z" fill="#fff"/>
<path d="M224.5,237.9 L224.5,237.0 L224.5,236.2 L224.7,235.5 L224.9,234.9 L225.3,234.2 L225.8,233.6 L226.4,233.0 L227.2,232.3 L228.7,231.5 L229.9,230.7 L230.6,229.8 L231.2,228.8 L231.6,227.9 L231.8,227.0 L231.9,226.2 L231.8,225.4 L231.5,224.8 L230.9,224.2 L229.5,224.3 L228.5,224.1 L228.0,223.9 L227.6,223.5 L227.3,223.1 L227.2,222.6 L227.2,222.0 L227.3,221.3 L227.6,220.5 L228.0,219.4 L229.2,217.6 L229.9,216.1 L230.1,215.0 L230.1,214.1 L230.0,213.3 L229.7,212.8 L229.2,212.4 L228.6,212.3 L227.9,212.3 L227.0,212.7 L225.5,214.2 L224.4,215.1 L223.7,215.6 L223.0,215.9 L222.5,216.0 L222.1,215.9 L221.7,215.7 L221.4,215.4 L221.2,214.8 L221.0,214.0 L221.1,212.1 L220.9,210.9 L220.5,210.3 L220.0,209.9 L219.4,209.8 L218.7,209.9 L218.0,210.2 L217.3,210.8 L216.6,211.5 L215.8,212.6 L215.2,214.6 L214.6,216.1 L214.0,217.0 L213.5,217.8 L213.1,218.3 L212.6,218.8 L212.1,219.1 L211.5,219.2 L210.9,219.3 L210.2,219.2 L209.2,218.4 L208.2,218.2 L207.4,218.4 L206.6,218.8 L205.9,219.3 L205.3,220.0 L204.8,220.9 L204.3,221.8 L204.0,222.8 L203.9,223.9 L204.4,225.3 L204.7,226.4 L204.7,227.3 L204.7,228.1 L204.5,228.8 L204.3,229.4 L203.9,230.1 L203.4,230.7 L202.8,231.3 L202.0,232.0 L200.5,232.8 L199.3,233.6 L198.6,234.5 L198.0,235.5 L197.6,236.4 L197.4,237.3 L197.3,238.1 L197.4,238.9 L197.7,239.5 L198.3,240.1 L199.7,240.0 L200.7,240.2 L201.2,240.4 L201.6,240.8 L201.9,241.2 L202.0,241.7 L202.0,242.3 L201.9,243.0 L201.6,243.8 L201.2,244.9 L200.0,246.7 L199.3,248.2 L199.1,249.3 L199.1,250.2 L199.2,251.0 L199.5,251.5 L200.0,251.9 L200.6,252.0 L201.3,252.0 L202.2,251.6 L203.7,250.1 L204.8,249.2 L205.5,248.7 L206.2,248.4 L206.7,248.3 L207.1,248.4 L207.5,248.6 L207.8,248.9 L208.0,249.5 L208.2,250.3 L208.1,252.2 L208.3,253.4 L208.7,254.0 L209.2,254.4 L209.8,254.5 L210.5,254.4 L211.2,254.1 L211.9,253.5 L212.6,252.8 L213.4,251.7 L214.0,249.7 L214.6,248.2 L215.2,247.3 L215.7,246.5 L216.1,246.0 L216.6,245.5 L217.1,245.2 L217.7,245.1 L218.3,245.0 L219.0,245.1 L220.0,245.9 L221.0,246.1 L221.8,245.9 L222.6,245.5 L223.3,245.0 L223.9,244.3 L224.4,243.4 L224.9,242.5 L225.2,241.5 L225.3,240.4 L224.8,239.0Z" fill="#fff"/>
<path d="M226.1,238.7 L226.1,237.8 L226.1,237.1 L226.3,236.4 L226.5,235.7 L226.9,235.1 L227.4,234.5 L228.0,233.8 L228.8,233.2 L230.3,232.4 L231.5,231.5 L232.2,230.6 L232.8,229.7 L233.2,228.8 L233.4,227.9 L233.5,227.0 L233.4,226.3 L233.1,225.6 L232.5,225.1 L231.1,225.1 L230.1,225.0 L229.6,224.7 L229.2,224.4 L228.9,223.9 L228.8,223.5 L228.8,222.9 L228.9,222.2 L229.2,221.3 L229.6,220.3 L230.8,218.4 L231.5,216.9 L231.7,215.8 L231.7,214.9 L231.6,214.2 L231.3,213.6 L230.8,213.3 L230.2,213.1 L229.5,213.2 L228.6,213.6 L227.1,215.0 L226.0,216.0 L225.3,216.4 L224.6,216.7 L224.1,216.8 L223.7,216.8 L223.3,216.6 L223.0,216.2 L222.8,215.6 L222.6,214.9 L222.7,213.0 L222.5,211.7 L222.1,211.1 L221.6,210.8 L221.0,210.6 L220.3,210.8 L219.6,211.1 L218.9,211.6 L218.2,212.4 L217.4,213.4 L216.8,215.5 L216.2,216.9 L215.6,217.9 L215.1,218.6 L214.7,219.2 L214.2,219.6 L213.7,219.9 L213.1,220.1 L212.5,220.1 L211.8,220.1 L210.8,219.3 L209.8,219.0 L209.0,219.2 L208.2,219.6 L207.5,220.2 L206.9,220.9 L206.4,221.7 L205.9,222.6 L205.6,223.7 L205.5,224.7 L206.0,226.2 L206.3,227.3 L206.3,228.2 L206.3,228.9 L206.1,229.6 L205.9,230.3 L205.5,230.9 L205.0,231.5 L204.4,232.2 L203.6,232.8 L202.1,233.6 L200.9,234.5 L200.2,235.4 L199.6,236.3 L199.2,237.2 L199.0,238.1 L198.9,239.0 L199.0,239.7 L199.3,240.4 L199.9,240.9 L201.3,240.9 L202.3,241.0 L202.8,241.3 L203.2,241.6 L203.5,242.1 L203.6,242.5 L203.6,243.1 L203.5,243.8 L203.2,244.7 L202.8,245.7 L201.6,247.6 L200.9,249.1 L200.7,250.2 L200.7,251.1 L200.8,251.8 L201.1,252.4 L201.6,252.7 L202.2,252.9 L202.9,252.8 L203.8,252.4 L205.3,251.0 L206.4,250.0 L207.1,249.6 L207.8,249.3 L208.3,249.2 L208.7,249.2 L209.1,249.4 L209.4,249.8 L209.6,250.4 L209.8,251.1 L209.7,253.0 L209.9,254.3 L210.3,254.9 L210.8,255.2 L211.4,255.4 L212.1,255.2 L212.8,254.9 L213.5,254.4 L214.2,253.6 L215.0,252.6 L215.6,250.5 L216.2,249.1 L216.8,248.1 L217.3,247.4 L217.7,246.8 L218.2,246.4 L218.7,246.1 L219.3,245.9 L219.9,245.9 L220.6,245.9 L221.6,246.7 L222.6,247.0 L223.4,246.8 L224.2,246.4 L224.9,245.8 L225.5,245.1 L226.0,244.3 L226.5,243.4 L226.8,242.3 L226.9,241.3 L226.4,239.8Z" fill="#fff"/>
<path d="M227.7,239.6 L227.7,238.7 L227.7,237.9 L227.9,237.2 L228.1,236.6 L228.5,235.9 L229.0,235.3 L229.6,234.7 L230.4,234.0 L231.9,233.2 L233.1,232.4 L233.8,231.5 L234.4,230.5 L234.8,229.6 L235.0,228.7 L235.1,227.9 L235.0,227.1 L234.7,226.5 L234.1,225.9 L232.7,226.0 L231.7,225.8 L231.2,225.6 L230.8,225.2 L230.5,224.8 L230.4,224.3 L230.4,223.7 L230.5,223.0 L230.8,222.2 L231.2,221.1 L232.4,219.3 L233.1,217.8 L233.3,216.7 L233.3,215.8 L233.2,215.0 L232.9,214.5 L232.4,214.1 L231.8,214.0 L231.1,214.0 L230.2,214.4 L228.7,215.9 L227.6,216.8 L226.9,217.3 L226.2,217.6 L225.7,217.7 L225.3,217.6 L224.9,217.4 L224.6,217.1 L224.4,216.5 L224.2,215.7 L224.3,213.8 L224.1,212.6 L223.7,212.0 L223.2,211.6 L222.6,211.5 L221.9,211.6 L221.2,211.9 L220.5,212.5 L219.8,213.2 L219.0,214.3 L218.4,216.3 L217.8,217.8 L217.2,218.7 L216.7,219.5 L216.3,220.0 L215.8,220.5 L215.3,220.8 L214.7,220.9 L214.1,221.0 L213.4,220.9 L212.4,220.1 L211.4,219.9 L210.6,220.1 L209.8,220.5 L209.1,221.0 L208.5,221.7 L208.0,222.6 L207.5,223.5 L207.2,224.5 L207.1,225.6 L207.6,227.0 L207.9,228.1 L207.9,229.0 L207.9,229.8 L207.7,230.5 L207.5,231.1 L207.1,231.8 L206.6,232.4 L206.0,233.0 L205.2,233.7 L203.7,234.5 L202.5,235.3 L201.8,236.2 L201.2,237.2 L200.8,238.1 L200.6,239.0 L200.5,239.8 L200.6,240.6 L200.9,241.2 L201.5,241.8 L202.9,241.7 L203.9,241.9 L204.4,242.1 L204.8,242.5 L205.1,242.9 L205.2,243.4 L205.2,244.0 L205.1,244.7 L204.8,245.5 L204.4,246.6 L203.2,248.4 L202.5,249.9 L202.3,251.0 L202.3,251.9 L202.4,252.7 L202.7,253.2 L203.2,253.6 L203.8,253.7 L204.5,253.7 L205.4,253.3 L206.9,251.8 L208.0,250.9 L208.7,250.4 L209.4,250.1 L209.9,250.0 L210.3,250.1 L210.7,250.3 L211.0,250.6 L211.2,251.2 L211.4,252.0 L211.3,253.9 L211.5,255.1 L211.9,255.7 L212.4,256.1 L213.0,256.2 L213.7,256.1 L214.4,255.8 L215.1,255.2 L215.8,254.5 L216.6,253.4 L217.2,251.4 L217.8,249.9 L218.4,249.0 L218.9,248.2 L219.3,247.7 L219.8,247.2 L220.3,246.9 L220.9,246.8 L221.5,246.7 L222.2,246.8 L223.2,247.6 L224.2,247.8 L225.0,247.6 L225.8,247.2 L226.5,246.7 L227.1,246.0 L227.6,245.1 L228.1,244.2 L228.4,243.2 L228.5,242.1 L228.0,240.7Z" fill="#fff"/>
<path d="M229.3,240.4 L229.3,239.5 L229.3,238.8 L229.5,238.1 L229.7,237.4 L230.1,236.8 L230.6,236.2 L231.2,235.5 L232.0,234.9 L233.5,234.1 L234.7,233.2 L235.4,232.3 L236.0,231.4 L236.4,230.5 L236.6,229.6 L236.7,228.7 L236.6,228.0 L236.3,227.3 L235.7,226.8 L234.3,226.8 L233.3,226.7 L232.8,226.4 L232.4,226.1 L232.1,225.6 L232.0,225.2 L232.0,224.6 L232.1,223.9 L232.4,223.0 L232.8,222.0 L234.0,220.1 L234.7,218.6 L234.9,217.5 L234.9,216.6 L234.8,215.9 L234.5,215.3 L234.0,215.0 L233.4,214.8 L232.7,214.9 L231.8,215.3 L230.3,216.7 L229.2,217.7 L228.5,218.1 L227.8,218.4 L227.3,218.5 L226.9,218.5 L226.5,218.3 L226.2,217.9 L226.0,217.3 L225.8,216.6 L225.9,214.7 L225.7,213.4 L225.3,212.8 L224.8,212.5 L224.2,212.3 L223.5,212.5 L222.8,212.8 L222.1,213.3 L221.4,214.1 L220.6,215.1 L220.0,217.2 L219.4,218.6 L218.8,219.6 L218.3,220.3 L217.9,220.9 L217.4,221.3 L216.9,221.6 L216.3,221.8 L215.7,221.8 L215.0,221.8 L214.0,221.0 L213.0,220.7 L212.2,220.9 L211.4,221.3 L210.7,221.9 L210.1,222.6 L209.6,223.4 L209.1,224.3 L208.8,225.4 L208.7,226.4 L209.2,227.9 L209.5,229.0 L209.5,229.9 L209.5,230.6 L209.3,231.3 L209.1,232.0 L208.7,232.6 L208.2,233.2 L207.6,233.9 L206.8,234.5 L205.3,235.3 L204.1,236.2 L203.4,237.1 L202.8,238.0 L202.4,238.9 L202.2,239.8 L202.1,240.7 L202.2,241.4 L202.5,242.1 L203.1,242.6 L204.5,242.6 L205.5,242.7 L206.0,243.0 L206.4,243.3 L206.7,243.8 L206.8,244.2 L206.8,244.8 L206.7,245.5 L206.4,246.4 L206.0,247.4 L204.8,249.3 L204.1,250.8 L203.9,251.9 L203.9,252.8 L204.0,253.5 L204.3,254.1 L204.8,254.4 L205.4,254.6 L206.1,254.5 L207.0,254.1 L208.5,252.7 L209.6,251.7 L210.3,251.3 L211.0,251.0 L211.5,250.9 L211.9,250.9 L212.3,251.1 L212.6,251.5 L212.8,252.1 L213.0,252.8 L212.9,254.7 L213.1,256.0 L213.5,256.6 L214.0,256.9 L214.6,257.1 L215.3,256.9 L216.0,256.6 L216.7,256.1 L217.4,255.3 L218.2,254.3 L218.8,252.2 L219.4,250.8 L220.0,249.8 L220.5,249.1 L220.9,248.5 L221.4,248.1 L221.9,247.8 L222.5,247.6 L223.1,247.6 L223.8,247.6 L224.8,248.4 L225.8,248.7 L226.6,248.5 L227.4,248.1 L228.1,247.5 L228.7,246.8 L229.2,246.0 L229.7,245.1 L230.0,244.0 L230.1,243.0 L229.6,241.5Z" fill="#fff"/>
<path d="M230.9,241.3 L230.9,240.4 L230.9,239.6 L231.1,238.9 L231.3,238.3 L231.7,237.6 L232.2,237.0 L232.8,236.4 L233.6,235.7 L235.1,234.9 L236.3,234.1 L237.0,233.2 L237.6,232.2 L238.0,231.3 L238.2,230.4 L238.3,229.6 L238.2,228.8 L237.9,228.2 L237.3,227.6 L235.9,227.7 L234.9,227.5 L234.4,227.3 L234.0,226.9 L233.7,226.5 L233.6,226.0 L233.6,225.4 L233.7,224.7 L234.0,223.9 L234.4,222.8 L235.6,221.0 L236.3,219.5 L236.5,218.4 L236.5,217.5 L236.4,216.7 L236.1,216.2 L235.6,215.8 L235.0,215.7 L234.3,215.7 L233.4,216.1 L231.9,217.6 L230.8,218.5 L230.1,219.0 L229.4,219.3 L228.9,219.4 L228.5,219.3 L228.1,219.1 L227.8,218.8 L227.6,218.2 L227.4,217.4 L227.5,215.5 L227.3,214.3 L226.9,213.7 L226.4,213.3 L225.8,213.2 L225.1,213.3 L224.4,213.6 L223.7,214.2 L223.0,214.9 L222.2,216.0 L221.6,218.0 L221.0,219.5 L220.4,220.4 L219.9,221.2 L219.5,221.7 L219.0,222.2 L218.5,222.5 L217.9,222.6 L217.3,222.7 L216.6,222.6 L215.6,221.8 L214.6,221.6 L213.8,221.8 L213.0,222.2 L212.3,222.7 L211.7,223.4 L211.2,224.3 L210.7,225.2 L210.4,226.2 L210.3,227.3 L210.8,228.7 L211.1,229.8 L211.1,230.7 L211.1,231.5 L210.9,232.2 L210.7,232.8 L210.3,233.5 L209.8,234.1 L209.2,234.7 L208.4,235.4 L206.9,236.2 L205.7,237.0 L205.0,237.9 L204.4,238.9 L204.0,239.8 L203.8,240.7 L203.7,241.5 L203.8,242.3 L204.1,242.9 L204.7,243.5 L206.1,243.4 L207.1,243.6 L207.6,243.8 L208.0,244.2 L208.3,244.6 L208.4,245.1 L208.4,245.7 L208.3,246.4 L208.0,247.2 L207.6,248.3 L206.4,250.1 L205.7,251.6 L205.5,252.7 L205.5,253.6 L205.6,254.4 L205.9,254.9 L206.4,255.3 L207.0,255.4 L207.7,255.4 L208.6,255.0 L210.1,253.5 L211.2,252.6 L211.9,252.1 L212.6,251.8 L213.1,251.7 L213.5,251.8 L213.9,252.0 L214.2,252.3 L214.4,252.9 L214.6,253.7 L214.5,255.6 L214.7,256.8 L215.1,257.4 L215.6,257.8 L216.2,257.9 L216.9,257.8 L217.6,257.5 L218.3,256.9 L219.0,256.2 L219.8,255.1 L220.4,253.1 L221.0,251.6 L221.6,250.7 L222.1,249.9 L222.5,249.4 L223.0,248.9 L223.5,248.6 L224.1,248.5 L224.7,248.4 L225.4,248.5 L226.4,249.3 L227.4,249.5 L228.2,249.3 L229.0,248.9 L229.7,248.4 L230.3,247.7 L230.8,246.8 L231.3,245.9 L231.6,244.9 L231.7,243.8 L231.2,242.4Z" fill="#fff"/>
<path d="M232.5,242.1 L232.5,241.2 L232.5,240.5 L232.7,239.8 L232.9,239.1 L233.3,238.5 L233.8,237.9 L234.4,237.2 L235.2,236.6 L236.7,235.8 L237.9,234.9 L238.6,234.0 L239.2,233.1 L239.6,232.2 L239.8,231.3 L239.9,230.4 L239.8,229.7 L239.5,229.0 L238.9,228.5 L237.5,228.5 L236.5,228.4 L236.0,228.1 L235.6,227.8 L235.3,227.3 L235.2,226.9 L235.2,226.3 L235.3,225.6 L235.6,224.7 L236.0,223.7 L237.2,221.8 L237.9,220.3 L238.1,219.2 L238.1,218.3 L238.0,217.6 L237.7,217.0 L237.2,216.7 L236.6,216.5 L235.9,216.6 L235.0,217.0 L233.5,218.4 L232.4,219.4 L231.7,219.8 L231.0,220.1 L230.5,220.2 L230.1,220.2 L229.7,220.0 L229.4,219.6 L229.2,219.0 L229.0,218.3 L229.1,216.4 L228.9,215.1 L228.5,214.5 L228.0,214.2 L227.4,214.0 L226.7,214.2 L226.0,214.5 L225.3,215.0 L224.6,215.8 L223.8,216.8 L223.2,218.9 L222.6,220.3 L222.0,221.3 L221.5,222.0 L221.1,222.6 L220.6,223.0 L220.1,223.3 L219.5,223.5 L218.9,223.5 L218.2,223.5 L217.2,222.7 L216.2,222.4 L215.4,222.6 L214.6,223.0 L213.9,223.6 L213.3,224.3 L212.8,225.1 L212.3,226.0 L212.0,227.1 L211.9,228.1 L212.4,229.6 L212.7,230.7 L212.7,231.6 L212.7,232.3 L212.5,233.0 L212.3,233.7 L211.9,234.3 L211.4,234.9 L210.8,235.6 L210.0,236.2 L208.5,237.0 L207.3,237.9 L206.6,238.8 L206.0,239.7 L205.6,240.6 L205.4,241.5 L205.3,242.4 L205.4,243.1 L205.7,243.8 L206.3,244.3 L207.7,244.3 L208.7,244.4 L209.2,244.7 L209.6,245.0 L209.9,245.5 L210.0,245.9 L210.0,246.5 L209.9,247.2 L209.6,248.1 L209.2,249.1 L208.0,251.0 L207.3,252.5 L207.1,253.6 L207.1,254.5 L207.2,255.2 L207.5,255.8 L208.0,256.1 L208.6,256.3 L209.3,256.2 L210.2,255.8 L211.7,254.4 L212.8,253.4 L213.5,253.0 L214.2,252.7 L214.7,252.6 L215.1,252.6 L215.5,252.8 L215.8,253.2 L216.0,253.8 L216.2,254.5 L216.1,256.4 L216.3,257.7 L216.7,258.3 L217.2,258.6 L217.8,258.8 L218.5,258.6 L219.2,258.3 L219.9,257.8 L220.6,257.0 L221.4,256.0 L222.0,253.9 L222.6,252.5 L223.2,251.5 L223.7,250.8 L224.1,250.2 L224.6,249.8 L225.1,249.5 L225.7,249.3 L226.3,249.3 L227.0,249.3 L228.0,250.1 L229.0,250.4 L229.8,250.2 L230.6,249.8 L231.3,249.2 L231.9,248.5 L232.4,247.7 L232.9,246.8 L233.2,245.7 L233.3,244.7 L232.8,243.2Z" fill="#fff"/>
<line x1="220.6" y1="223.0" x2="204.6" y2="214.5" stroke="#000" fill="none" stroke-width="2.0" stroke-linejoin="round" stroke-linecap="round"/>
<line x1="212.3" y1="233.6" x2="196.3" y2="225.1" stroke="#000" fill="none" stroke-width="2.0" stroke-linejoin="round" stroke-linecap="round"/>
<line x1="210.0" y1="245.9" x2="194.0" y2="237.4" stroke="#000" fill="none" stroke-width="2.0" stroke-linejoin="round" stroke-linecap="round"/>
<path d="M232.5,242.1 L232.5,241.2 L232.5,240.5 L232.7,239.8 L232.9,239.1 L233.3,238.5 L233.8,237.9 L234.4,237.2 L235.2,236.6 L236.7,235.8 L237.9,234.9 L238.6,234.0 L239.2,233.1 L239.6,232.2 L239.8,231.3 L239.9,230.4 L239.8,229.7 L239.5,229.0 L238.9,228.5 L237.5,228.5 L236.5,228.4 L236.0,228.1 L235.6,227.8 L235.3,227.3 L235.2,226.9 L235.2,226.3 L235.3,225.6 L235.6,224.7 L236.0,223.7 L237.2,221.8 L237.9,220.3 L238.1,219.2 L238.1,218.3 L238.0,217.6 L237.7,217.0 L237.2,216.7 L236.6,216.5 L235.9,216.6 L235.0,217.0 L233.5,218.4 L232.4,219.4 L231.7,219.8 L231.0,220.1 L230.5,220.2 L230.1,220.2 L229.7,220.0 L229.4,219.6 L229.2,219.0 L229.0,218.3 L229.1,216.4 L228.9,215.1 L228.5,214.5 L228.0,214.2 L227.4,214.0 L226.7,214.2 L226.0,214.5 L225.3,215.0 L224.6,215.8 L223.8,216.8 L223.2,218.9 L222.6,220.3 L222.0,221.3 L221.5,222.0 L221.1,222.6 L220.6,223.0 L220.1,223.3 L219.5,223.5 L218.9,223.5 L218.2,223.5 L217.2,222.7 L216.2,222.4 L215.4,222.6 L214.6,223.0 L213.9,223.6 L213.3,224.3 L212.8,225.1 L212.3,226.0 L212.0,227.1 L211.9,228.1 L212.4,229.6 L212.7,230.7 L212.7,231.6 L212.7,232.3 L212.5,233.0 L212.3,233.7 L211.9,234.3 L211.4,234.9 L210.8,235.6 L210.0,236.2 L208.5,237.0 L207.3,237.9 L206.6,238.8 L206.0,239.7 L205.6,240.6 L205.4,241.5 L205.3,242.4 L205.4,243.1 L205.7,243.8 L206.3,244.3 L207.7,244.3 L208.7,244.4 L209.2,244.7 L209.6,245.0 L209.9,245.5 L210.0,245.9 L210.0,246.5 L209.9,247.2 L209.6,248.1 L209.2,249.1 L208.0,251.0 L207.3,252.5 L207.1,253.6 L207.1,254.5 L207.2,255.2 L207.5,255.8 L208.0,256.1 L208.6,256.3 L209.3,256.2 L210.2,255.8 L211.7,254.4 L212.8,253.4 L213.5,253.0 L214.2,252.7 L214.7,252.6 L215.1,252.6 L215.5,252.8 L215.8,253.2 L216.0,253.8 L216.2,254.5 L216.1,256.4 L216.3,257.7 L216.7,258.3 L217.2,258.6 L217.8,258.8 L218.5,258.6 L219.2,258.3 L219.9,257.8 L220.6,257.0 L221.4,256.0 L222.0,253.9 L222.6,252.5 L223.2,251.5 L223.7,250.8 L224.1,250.2 L224.6,249.8 L225.1,249.5 L225.7,249.3 L226.3,249.3 L227.0,249.3 L228.0,250.1 L229.0,250.4 L229.8,250.2 L230.6,249.8 L231.3,249.2 L231.9,248.5 L232.4,247.7 L232.9,246.8 L233.2,245.7 L233.3,244.7 L232.8,243.2Z" stroke="#000" fill="#fff" stroke-width="2.2" stroke-linejoin="round" stroke-linecap="round"/>
<path d="M218.0,230.0 C219.4,227.9 221.4,226.6 223.5,226.5 C225.6,226.4 227.3,227.8 228.5,229.5 C229.7,231.2 230.0,232.7 229.5,235.0 C229.0,237.3 227.8,238.8 226.0,241.0 C224.2,243.2 222.2,245.4 220.5,246.0 C218.8,246.6 218.3,245.8 217.5,244.0 C216.7,242.2 216.4,239.8 216.5,237.0 C216.6,234.2 216.6,232.1 218.0,230.0Z" stroke="#000" fill="none" stroke-width="2.0" stroke-linejoin="round" stroke-linecap="round"/>
<rect x="185" y="236" width="65" height="28" fill="url(#dots)" mask="url(#wm)"/>
<path d="M296.0,269.0 L280.6,260.3 L280.2,260.1 L279.8,260.0 L279.3,259.9 L278.8,259.9 L278.3,260.0 L277.8,260.1 L277.2,260.3 L276.6,260.5 L276.1,260.8 L275.5,261.1 L274.9,261.5 L274.3,262.0 L273.8,262.5 L273.2,263.0 L272.7,263.6 L272.1,264.3 L271.6,264.9 L271.1,265.6 L270.6,266.3 L270.2,267.1 L269.8,267.8 L269.4,268.6 L269.1,269.4 L268.8,270.2 L268.5,271.0 L268.3,271.7 L268.1,272.5 L268.0,273.3 L267.9,274.0 L267.8,274.7 L267.8,275.4 L267.9,276.0 L268.0,276.6 L268.1,277.2 L268.3,277.7 L268.5,278.1 L268.8,278.6 L269.1,278.9 L269.4,279.2 L269.8,279.5 L285.2,288.2" stroke="#000" fill="none" stroke-width="2.4" stroke-linejoin="round" stroke-linecap="round"/>
<path d="M278.9,267.4 L292.8,275.3 M273.3,272.3 L289.4,281.4" stroke="#000" fill="none" stroke-width="2.0" stroke-linejoin="round" stroke-linecap="round"/>
<path d="M313.4,267.4 L309.0,264.9 L308.5,264.7 L308.0,264.5 L307.4,264.3 L306.8,264.2 L306.2,264.2 L305.6,264.2 L304.9,264.2 L304.3,264.3 L303.6,264.5 L302.9,264.7 L302.2,264.9 L301.5,265.3 L300.7,265.6 L300.0,266.0 L299.3,266.5 L298.5,267.0 L297.8,267.5 L297.1,268.1 L296.3,268.7 L295.6,269.4 L294.9,270.1 L294.2,270.9 L293.5,271.6 L292.8,272.4 L292.2,273.3 L291.5,274.1 L290.9,275.0 L290.3,275.9 L289.7,276.9 L289.2,277.8 L288.7,278.8 L288.2,279.8 L287.7,280.7 L287.2,281.7 L286.8,282.7 L286.5,283.7 L286.1,284.7 L285.8,285.7 L285.5,286.7 L285.3,287.7 L285.1,288.6 L284.9,289.6 L284.8,290.5 L284.7,291.4 L284.7,292.3 L284.6,293.2 L284.7,294.0 L284.7,294.8 L284.8,295.6 L285.0,296.3 L285.2,297.0 L285.4,297.7 L285.6,298.3 L285.9,298.9 L286.2,299.5 L286.6,300.0 L287.0,300.4 L287.4,300.8 L287.9,301.2 L288.3,301.5 L292.7,303.9" stroke="#000" fill="none" stroke-width="2.4" stroke-linejoin="round" stroke-linecap="round"/>
<path d="M302.8,302.2 L301.9,302.7 L301.1,303.2 L300.3,303.6 L299.5,303.9 L298.7,304.2 L297.9,304.5 L297.1,304.6 L296.4,304.7 L295.6,304.7 L294.9,304.7 L294.3,304.5 L293.6,304.4 L293.0,304.1 L292.5,303.8 L291.9,303.4 L291.4,303.0 L291.0,302.5 L290.6,301.9 L290.2,301.3 L289.9,300.6 L289.6,299.9 L289.4,299.1 L289.2,298.3 L289.1,297.4 L289.0,296.5 L289.0,295.6 L289.0,294.6 L289.1,293.6 L289.2,292.5 L289.4,291.5 L289.6,290.4 L289.9,289.3 L290.2,288.1 L290.5,287.0 L290.9,285.9 L291.4,284.7 L291.8,283.6 L292.4,282.5 L292.9,281.4 L293.5,280.3 L294.2,279.2 L294.8,278.2 L295.5,277.1 L296.2,276.1 L297.0,275.2 L297.7,274.2 L298.5,273.3 L299.3,272.5 L300.1,271.7 L301.0,271.0 L301.8,270.3 L302.6,269.6 L303.5,269.0 L304.3,268.5 L305.1,268.1 L305.9,267.7 L306.8,267.3 L307.6,267.0 L308.3,266.8 L309.1,266.7 L309.8,266.6 L310.6,266.6 L311.3,266.7 L311.9,266.8 L312.5,267.0 L313.1,267.3 L313.7,267.6 L314.2,268.0 L314.7,268.4 L315.2,268.9 L315.6,269.5 L315.9,270.1 L316.2,270.8 L316.5,271.6 L316.7,272.4 L316.9,273.2 L317.0,274.1 L317.1,275.0 L317.1,275.9 L317.1,276.9" stroke="#000" fill="none" stroke-width="2.4" stroke-linejoin="round" stroke-linecap="round"/>
<path d="M295.9,298.3 L295.5,298.0 L295.1,297.7 L294.8,297.4 L294.5,297.0 L294.2,296.5 L294.0,296.0 L293.8,295.5 L293.6,294.9 L293.5,294.3 L293.4,293.7 L293.4,293.0 L293.3,292.3 L293.4,291.6 L293.4,290.8 L293.5,290.1 L293.7,289.3 L293.8,288.5 L294.1,287.7 L294.3,286.9 L294.6,286.0 L294.9,285.2 L295.3,284.4 L295.6,283.6 L296.0,282.7 L296.5,281.9 L296.9,281.2 L297.4,280.4 L297.9,279.6 L298.5,278.9 L299.0,278.2 L299.6,277.6 L300.1,276.9 L300.7,276.3 L301.3,275.8 L301.9,275.2 L302.5,274.8 L303.1,274.3 L303.7,273.9 L304.4,273.6 L305.0,273.3 L305.5,273.0 L306.1,272.8 L306.7,272.7 L307.3,272.6 L307.8,272.5 L308.3,272.5 L308.8,272.6 L309.3,272.7 L309.8,272.8 L310.2,273.0" stroke="#000" fill="none" stroke-width="2.0" stroke-linejoin="round" stroke-linecap="round"/>
<path d="M310.2,273.0 L380.7,312.9 M295.9,298.3 L366.4,338.2" stroke="#000" fill="none" stroke-width="2.4" stroke-linejoin="round" stroke-linecap="round"/>
<path d="M366.8,337.5 L366.4,337.2 L366.0,336.9 L365.7,336.5 L365.4,336.0 L365.2,335.5 L365.0,335.0 L364.9,334.4 L364.8,333.8 L364.7,333.1 L364.7,332.4 L364.8,331.6 L364.9,330.8 L365.0,330.1 L365.2,329.2 L365.5,328.4 L365.7,327.6 L366.1,326.8 L366.4,325.9 L366.8,325.1 L367.3,324.3 L367.7,323.5 L368.2,322.7 L368.7,322.0 L369.3,321.3 L369.9,320.6 L370.4,320.0 L371.0,319.4 L371.7,318.9 L372.3,318.4 L372.9,318.0 L373.5,317.6 L374.1,317.3 L374.7,317.0 L375.3,316.9 L375.8,316.7 L376.4,316.7 L376.9,316.7 L377.4,316.8 L377.9,316.9 L378.3,317.1 L407.9,333.8 L408.3,334.1 L408.7,334.4 L409.0,334.8 L409.3,335.3 L409.5,335.8 L409.7,336.3 L409.8,336.9 L409.9,337.6 L410.0,338.2 L410.0,338.9 L409.9,339.7 L409.8,340.5 L409.7,341.3 L409.5,342.1 L409.2,342.9 L409.0,343.7 L408.6,344.6 L408.3,345.4 L407.9,346.2 L407.4,347.0 L407.0,347.8 L406.5,348.6 L405.9,349.3 L405.4,350.0 L404.8,350.7 L404.2,351.3 L403.6,351.9 L403.0,352.4 L402.4,352.9 L401.8,353.3 L401.2,353.7 L400.6,354.0 L400.0,354.3 L399.4,354.5 L398.8,354.6 L398.3,354.6 L397.8,354.6 L397.3,354.6 L396.8,354.4 L396.4,354.2Z" stroke="#000" fill="#fff" stroke-width="2.4" stroke-linejoin="round" stroke-linecap="round"/>
<path d="M364.7,336.4 L364.5,335.9 L364.3,335.3 L364.1,334.7 L364.0,334.1 L363.9,333.4 L363.8,332.6 L363.8,331.9 L363.9,331.1 L364.0,330.3 L364.1,329.5 L364.3,328.6 L364.5,327.8 L364.8,326.9 L365.1,326.0 L365.4,325.1 L365.8,324.3 L366.2,323.4 L366.6,322.5 L367.1,321.7 L367.6,320.9 L368.1,320.0 L368.6,319.3 L369.2,318.5 L369.8,317.8 L370.4,317.1 L371.0,316.4 L371.6,315.8 L372.3,315.3 L372.9,314.7 L373.6,314.3 L374.2,313.8 L374.9,313.5 L375.5,313.1 L376.1,312.9 L376.7,312.7 L377.3,312.5 L377.9,312.4 L378.5,312.4 L379.0,312.4 L379.6,312.5" stroke="#000" fill="none" stroke-width="2.4" stroke-linejoin="round" stroke-linecap="round"/>
<path d="M385.1,347.8 L384.7,347.5 L384.3,347.2 L384.0,346.8 L383.7,346.4 L383.5,345.9 L383.3,345.3 L383.1,344.7 L383.1,344.1 L383.0,343.4 L383.0,342.7 L383.1,342.0 L383.2,341.2 L383.3,340.4 L383.5,339.6 L383.7,338.8 L384.0,337.9 L384.3,337.1 L384.7,336.3 L385.1,335.4 L385.5,334.6 L386.0,333.8 L386.5,333.1 L387.0,332.3 L387.6,331.6 L388.1,331.0 L388.7,330.3 L389.3,329.8 L389.9,329.2 L390.5,328.7 L391.2,328.3 L391.8,327.9 L392.4,327.6 L393.0,327.4 L393.6,327.2 L394.1,327.1 L394.7,327.0 L395.2,327.0 L395.7,327.1 L396.2,327.2 L396.6,327.4" stroke="#000" fill="none" stroke-width="2.0" stroke-linejoin="round" stroke-linecap="round"/>
<path d="M387.7,349.3 L387.3,349.0 L386.9,348.7 L386.6,348.3 L386.3,347.9 L386.1,347.4 L385.9,346.8 L385.8,346.2 L385.7,345.6 L385.6,344.9 L385.6,344.2 L385.7,343.4 L385.8,342.7 L385.9,341.9 L386.1,341.1 L386.3,340.2 L386.6,339.4 L386.9,338.6 L387.3,337.7 L387.7,336.9 L388.1,336.1 L388.6,335.3 L389.1,334.6 L389.6,333.8 L390.2,333.1 L390.8,332.4 L391.3,331.8 L391.9,331.2 L392.5,330.7 L393.2,330.2 L393.8,329.8 L394.4,329.4 L395.0,329.1 L395.6,328.9 L396.2,328.7 L396.7,328.6 L397.3,328.5 L397.8,328.5 L398.3,328.6 L398.8,328.7 L399.2,328.9" stroke="#000" fill="none" stroke-width="2.0" stroke-linejoin="round" stroke-linecap="round"/>
<path d="M407.4,347.0 L406.8,348.1 L406.1,349.1 L405.4,350.0 L404.6,350.9 L403.8,351.7 L403.0,352.4 L402.2,353.1 L401.4,353.6 L400.6,354.0 L399.8,354.3 L399.0,354.6 L398.3,354.6 L397.6,354.6 L397.0,354.5 L396.4,354.2 L395.9,353.8 L395.4,353.4 L395.0,352.8 L394.7,352.1 L394.5,351.4 L394.4,350.5 L394.3,349.6 L394.4,348.6 L394.5,347.6 L394.7,346.5 L395.0,345.4 L395.3,344.3 L395.8,343.2 L396.3,342.1 L396.8,341.0 L397.5,340.0 L398.2,339.0 L398.9,338.0 L399.6,337.2 L400.4,336.3 L401.2,335.6 L402.1,335.0 L402.9,334.5 L403.7,334.0 L404.5,333.7 L405.3,333.5 L406.0,333.4 L406.7,333.4 L407.3,333.6 L407.9,333.8 L408.4,334.2 L408.9,334.7 L409.3,335.3 L409.6,335.9 L409.8,336.7 L409.9,337.6 L410.0,338.5 L409.9,339.4 L409.8,340.5 L409.6,341.5 L409.3,342.6 L409.0,343.7 L408.5,344.8 L408.0,345.9 L407.4,347.0Z" stroke="#000" fill="none" stroke-width="2.4" stroke-linejoin="round" stroke-linecap="round"/>
<path d="M405.2,345.8 L404.8,346.3 L404.4,346.9 L403.9,347.3 L403.3,347.7 L402.8,348.0 L402.2,348.1 L401.6,348.2 L401.0,348.2 L400.5,348.1 L400.0,347.9 L399.5,347.5 L399.1,347.1 L398.8,346.7 L398.6,346.1 L398.4,345.5 L398.4,344.9 L398.4,344.2 L398.6,343.6 L398.8,342.9 L399.1,342.3 L399.5,341.7 L399.9,341.2 L400.4,340.7 L400.9,340.4 L401.5,340.1 L402.1,339.9 L402.7,339.8 L403.3,339.9 L403.8,340.0 L404.3,340.2 L404.8,340.5 L405.2,340.9 L405.5,341.4 L405.7,342.0 L405.8,342.5 L405.9,343.2 L405.9,343.8 L405.7,344.5 L405.5,345.1 L405.2,345.8Z" stroke="#000" fill="none" stroke-width="2.3" stroke-linejoin="round" stroke-linecap="round"/>
<ellipse cx="371.6" cy="333.2" rx="3.0" ry="3.8" transform="rotate(-20 371.6 333.2)" stroke="#000" fill="#fff" stroke-width="1.7" stroke-linejoin="round" stroke-linecap="round"/>
<path d="M500.1,400.2 L500.6,399.4 L508.3,398.4 L512.1,389.8 L506.6,385.6 L506.9,384.7 L515.4,379.8 L517.3,371.4 L509.7,371.3 L509.8,370.5 L518.2,362.2 L517.8,355.0 L509.1,359.1 L509.0,358.4 L516.1,347.8 L513.7,342.7 L504.9,350.4 L504.6,350.0 L509.7,338.3 L505.4,335.9 L497.6,346.3 L497.1,346.2 L499.5,334.8 L493.9,335.4 L488.0,347.3 L487.4,347.6 L486.8,337.8 L480.6,341.3 L477.3,353.3 L476.7,353.8 L473.2,347.0 L467.1,353.0 L466.9,363.5 L466.3,364.3 L460.3,361.1 L455.0,368.9 L457.9,376.8 L457.4,377.6 L449.7,378.6 L445.9,387.2 L451.4,391.4 L451.1,392.3 L442.6,397.2 L440.7,405.6 L448.3,405.7 L448.2,406.5 L439.8,414.8 L440.2,422.0 L448.9,417.9 L449.0,418.6 L441.9,429.2 L444.3,434.3 L453.1,426.6 L453.4,427.0 L448.3,438.7 L452.6,441.1 L460.4,430.7 L460.9,430.8 L458.5,442.2 L464.1,441.6 L470.0,429.7 L470.6,429.4 L471.2,439.2 L477.4,435.7 L480.7,423.7 L481.3,423.2 L484.8,430.0 L490.9,424.0 L491.1,413.5 L491.7,412.7 L497.7,415.9 L503.0,408.1Z" stroke="#000" fill="#fff" stroke-width="2.5" stroke-linejoin="round" stroke-linecap="round"/>
<path d="M528.3,376.9 L520.7,376.8 L509.7,371.3 L517.3,371.4Z" stroke="#000" fill="#fff" stroke-width="2.1" stroke-linejoin="round" stroke-linecap="round"/>
<path d="M528.8,360.5 L520.1,364.6 L509.1,359.1 L517.8,355.0Z" stroke="#000" fill="#fff" stroke-width="2.1" stroke-linejoin="round" stroke-linecap="round"/>
<path d="M524.7,348.2 L515.9,355.9 L504.9,350.4 L513.7,342.7Z" stroke="#000" fill="#fff" stroke-width="2.1" stroke-linejoin="round" stroke-linecap="round"/>
<path d="M516.4,341.4 L508.6,351.8 L497.6,346.3 L505.4,335.9Z" stroke="#000" fill="#fff" stroke-width="2.1" stroke-linejoin="round" stroke-linecap="round"/>
<path d="M508.6,351.8 L508.1,351.7 L497.1,346.2 L497.6,346.3Z" stroke="#000" fill="#fff" stroke-width="2.1" stroke-linejoin="round" stroke-linecap="round"/>
<path d="M510.5,340.3 L504.9,340.9 L493.9,335.4 L499.5,334.8Z" stroke="#000" fill="#fff" stroke-width="2.1" stroke-linejoin="round" stroke-linecap="round"/>
<path d="M504.9,340.9 L499.0,352.8 L488.0,347.3 L493.9,335.4Z" stroke="#000" fill="#fff" stroke-width="2.1" stroke-linejoin="round" stroke-linecap="round"/>
<path d="M499.0,352.8 L498.4,353.1 L487.4,347.6 L488.0,347.3Z" stroke="#000" fill="#fff" stroke-width="2.1" stroke-linejoin="round" stroke-linecap="round"/>
<path d="M497.8,343.3 L491.6,346.8 L480.6,341.3 L486.8,337.8Z" stroke="#000" fill="#fff" stroke-width="2.1" stroke-linejoin="round" stroke-linecap="round"/>
<path d="M491.6,346.8 L488.3,358.8 L477.3,353.3 L480.6,341.3Z" stroke="#000" fill="#fff" stroke-width="2.1" stroke-linejoin="round" stroke-linecap="round"/>
<path d="M488.3,358.8 L487.7,359.3 L476.7,353.8 L477.3,353.3Z" stroke="#000" fill="#fff" stroke-width="2.1" stroke-linejoin="round" stroke-linecap="round"/>
<path d="M484.2,352.5 L478.1,358.5 L467.1,353.0 L473.2,347.0Z" stroke="#000" fill="#fff" stroke-width="2.1" stroke-linejoin="round" stroke-linecap="round"/>
<path d="M478.1,358.5 L477.9,369.0 L466.9,363.5 L467.1,353.0Z" stroke="#000" fill="#fff" stroke-width="2.1" stroke-linejoin="round" stroke-linecap="round"/>
<path d="M477.9,369.0 L477.3,369.8 L466.3,364.3 L466.9,363.5Z" stroke="#000" fill="#fff" stroke-width="2.1" stroke-linejoin="round" stroke-linecap="round"/>
<path d="M471.3,366.6 L466.0,374.4 L455.0,368.9 L460.3,361.1Z" stroke="#000" fill="#fff" stroke-width="2.1" stroke-linejoin="round" stroke-linecap="round"/>
<path d="M466.0,374.4 L468.9,382.3 L457.9,376.8 L455.0,368.9Z" stroke="#000" fill="#fff" stroke-width="2.1" stroke-linejoin="round" stroke-linecap="round"/>
<path d="M468.9,382.3 L468.4,383.1 L457.4,377.6 L457.9,376.8Z" stroke="#000" fill="#fff" stroke-width="2.1" stroke-linejoin="round" stroke-linecap="round"/>
<path d="M468.4,383.1 L460.7,384.1 L449.7,378.6 L457.4,377.6Z" stroke="#000" fill="#fff" stroke-width="2.1" stroke-linejoin="round" stroke-linecap="round"/>
<path d="M460.7,384.1 L456.9,392.7 L445.9,387.2 L449.7,378.6Z" stroke="#000" fill="#fff" stroke-width="2.1" stroke-linejoin="round" stroke-linecap="round"/>
<path d="M456.9,392.7 L462.4,396.9 L451.4,391.4 L445.9,387.2Z" stroke="#000" fill="#fff" stroke-width="2.1" stroke-linejoin="round" stroke-linecap="round"/>
<path d="M462.4,396.9 L462.1,397.8 L451.1,392.3 L451.4,391.4Z" stroke="#000" fill="#fff" stroke-width="2.1" stroke-linejoin="round" stroke-linecap="round"/>
<path d="M462.1,397.8 L453.6,402.7 L442.6,397.2 L451.1,392.3Z" stroke="#000" fill="#fff" stroke-width="2.1" stroke-linejoin="round" stroke-linecap="round"/>
<path d="M453.6,402.7 L451.7,411.1 L440.7,405.6 L442.6,397.2Z" stroke="#000" fill="#fff" stroke-width="2.1" stroke-linejoin="round" stroke-linecap="round"/>
<path d="M459.3,411.2 L459.2,412.0 L448.2,406.5 L448.3,405.7Z" stroke="#000" fill="#fff" stroke-width="2.1" stroke-linejoin="round" stroke-linecap="round"/>
<path d="M459.2,412.0 L450.8,420.3 L439.8,414.8 L448.2,406.5Z" stroke="#000" fill="#fff" stroke-width="2.1" stroke-linejoin="round" stroke-linecap="round"/>
<path d="M450.8,420.3 L451.2,427.5 L440.2,422.0 L439.8,414.8Z" stroke="#000" fill="#fff" stroke-width="2.1" stroke-linejoin="round" stroke-linecap="round"/>
<path d="M459.9,423.4 L460.0,424.1 L449.0,418.6 L448.9,417.9Z" stroke="#000" fill="#fff" stroke-width="2.1" stroke-linejoin="round" stroke-linecap="round"/>
<path d="M460.0,424.1 L452.9,434.7 L441.9,429.2 L449.0,418.6Z" stroke="#000" fill="#fff" stroke-width="2.1" stroke-linejoin="round" stroke-linecap="round"/>
<path d="M452.9,434.7 L455.3,439.8 L444.3,434.3 L441.9,429.2Z" stroke="#000" fill="#fff" stroke-width="2.1" stroke-linejoin="round" stroke-linecap="round"/>
<path d="M464.1,432.1 L464.4,432.5 L453.4,427.0 L453.1,426.6Z" stroke="#000" fill="#fff" stroke-width="2.1" stroke-linejoin="round" stroke-linecap="round"/>
<path d="M464.4,432.5 L459.3,444.2 L448.3,438.7 L453.4,427.0Z" stroke="#000" fill="#fff" stroke-width="2.1" stroke-linejoin="round" stroke-linecap="round"/>
<path d="M459.3,444.2 L463.6,446.6 L452.6,441.1 L448.3,438.7Z" stroke="#000" fill="#fff" stroke-width="2.1" stroke-linejoin="round" stroke-linecap="round"/>
<path d="M471.9,436.3 L469.5,447.7 L458.5,442.2 L460.9,430.8Z" stroke="#000" fill="#fff" stroke-width="2.1" stroke-linejoin="round" stroke-linecap="round"/>
<path d="M481.6,434.9 L482.2,444.7 L471.2,439.2 L470.6,429.4Z" stroke="#000" fill="#fff" stroke-width="2.1" stroke-linejoin="round" stroke-linecap="round"/>
<path d="M492.3,428.7 L495.8,435.5 L484.8,430.0 L481.3,423.2Z" stroke="#000" fill="#fff" stroke-width="2.1" stroke-linejoin="round" stroke-linecap="round"/>
<path d="M502.7,418.2 L508.7,421.4 L497.7,415.9 L491.7,412.7Z" stroke="#000" fill="#fff" stroke-width="2.1" stroke-linejoin="round" stroke-linecap="round"/>
<path d="M511.1,405.7 L511.6,404.9 L519.3,403.9 L523.1,395.3 L517.6,391.1 L517.9,390.2 L526.4,385.3 L528.3,376.9 L520.7,376.8 L520.8,376.0 L529.2,367.7 L528.8,360.5 L520.1,364.6 L520.0,363.9 L527.1,353.3 L524.7,348.2 L515.9,355.9 L515.6,355.5 L520.7,343.8 L516.4,341.4 L508.6,351.8 L508.1,351.7 L510.5,340.3 L504.9,340.9 L499.0,352.8 L498.4,353.1 L497.8,343.3 L491.6,346.8 L488.3,358.8 L487.7,359.3 L484.2,352.5 L478.1,358.5 L477.9,369.0 L477.3,369.8 L471.3,366.6 L466.0,374.4 L468.9,382.3 L468.4,383.1 L460.7,384.1 L456.9,392.7 L462.4,396.9 L462.1,397.8 L453.6,402.7 L451.7,411.1 L459.3,411.2 L459.2,412.0 L450.8,420.3 L451.2,427.5 L459.9,423.4 L460.0,424.1 L452.9,434.7 L455.3,439.8 L464.1,432.1 L464.4,432.5 L459.3,444.2 L463.6,446.6 L471.4,436.2 L471.9,436.3 L469.5,447.7 L475.1,447.1 L481.0,435.2 L481.6,434.9 L482.2,444.7 L488.4,441.2 L491.7,429.2 L492.3,428.7 L495.8,435.5 L501.9,429.5 L502.1,419.0 L502.7,418.2 L508.7,421.4 L514.0,413.6Z" stroke="#000" fill="#fff" stroke-width="2.5" stroke-linejoin="round" stroke-linecap="round"/>
<clipPath id="gclip"><path d="M510.9,405.6 L512.4,402.7 L513.8,399.9 L515.1,397.0 L516.2,394.0 L517.2,391.1 L518.1,388.2 L518.9,385.3 L519.5,382.5 L520.0,379.7 L520.3,377.0 L520.5,374.4 L520.5,371.8 L520.4,369.4 L520.2,367.1 L519.8,364.9 L519.2,362.9 L518.5,361.0 L517.7,359.3 L516.7,357.7 L515.6,356.4 L514.4,355.2 L513.0,354.2 L511.6,353.4 L510.0,352.8 L508.3,352.4 L506.6,352.1 L504.8,352.1 L502.9,352.3 L500.9,352.8 L498.9,353.4 L496.8,354.2 L494.7,355.2 L492.6,356.3 L490.5,357.7 L488.3,359.3 L486.2,361.0 L484.1,362.9 L482.0,364.9 L480.0,367.1 L478.0,369.4 L476.1,371.8 L474.2,374.3 L472.4,376.9 L470.7,379.6 L469.1,382.4 L467.6,385.3 L466.2,388.1 L464.9,391.0 L463.8,394.0 L462.8,396.9 L461.9,399.8 L461.1,402.7 L460.5,405.5 L460.0,408.3 L459.7,411.0 L459.5,413.6 L459.5,416.2 L459.6,418.6 L459.8,420.9 L460.2,423.1 L460.8,425.1 L461.5,427.0 L462.3,428.7 L463.3,430.3 L464.4,431.6 L465.6,432.8 L467.0,433.8 L468.4,434.6 L470.0,435.2 L471.7,435.6 L473.4,435.9 L475.2,435.9 L477.1,435.7 L479.1,435.2 L481.1,434.6 L483.2,433.8 L485.3,432.8 L487.4,431.7 L489.5,430.3 L491.7,428.7 L493.8,427.0 L495.9,425.1 L498.0,423.1 L500.0,420.9 L502.0,418.6 L503.9,416.2 L505.8,413.7 L507.6,411.1 L509.3,408.4 L510.9,405.6Z"/></clipPath>
<rect x="400" y="340" width="120" height="70" fill="url(#dots)" mask="url(#wm)" clip-path="url(#gclip)"/>
<path d="M507.4,403.6 L508.7,401.3 L509.8,398.9 L510.9,396.5 L511.8,394.0 L512.7,391.6 L513.5,389.2 L514.1,386.8 L514.6,384.4 L515.0,382.1 L515.3,379.8 L515.4,377.6 L515.5,375.5 L515.4,373.5 L515.1,371.6 L514.8,369.8 L514.3,368.1 L513.8,366.5 L513.1,365.1 L512.2,363.8 L511.3,362.6 L510.3,361.7 L509.2,360.8 L508.0,360.1 L506.7,359.6 L505.3,359.3 L503.8,359.1 L502.3,359.1 L500.7,359.3 L499.1,359.6 L497.4,360.1 L495.7,360.8 L493.9,361.6 L492.2,362.6 L490.4,363.8 L488.6,365.1 L486.9,366.5 L485.1,368.0 L483.4,369.7 L481.7,371.5 L480.0,373.5 L478.4,375.5 L476.8,377.6 L475.4,379.8 L473.9,382.0 L472.6,384.4 L471.3,386.7 L470.2,389.1 L469.1,391.5 L468.2,394.0 L467.3,396.4 L466.5,398.8 L465.9,401.2 L465.4,403.6 L465.0,405.9 L464.7,408.2 L464.6,410.4 L464.5,412.5 L464.6,414.5 L464.9,416.4 L465.2,418.2 L465.7,419.9 L466.2,421.5 L466.9,422.9 L467.8,424.2 L468.7,425.4 L469.7,426.3 L470.8,427.2 L472.0,427.9 L473.3,428.4 L474.7,428.7 L476.2,428.9 L477.7,428.9 L479.3,428.7 L480.9,428.4 L482.6,427.9 L484.3,427.2 L486.1,426.4 L487.8,425.4 L489.6,424.2 L491.4,422.9 L493.1,421.5 L494.9,420.0 L496.6,418.3 L498.3,416.5 L500.0,414.5 L501.6,412.5 L503.2,410.4 L504.6,408.2 L506.1,406.0 L507.4,403.6Z" stroke="#000" fill="none" stroke-width="2.3" stroke-linejoin="round" stroke-linecap="round"/>
<path d="M501.2,401.2 L502.3,399.2 L503.3,397.1 L504.2,395.1 L505.0,393.0 L505.7,391.0 L506.3,388.9 L506.9,386.9 L507.3,384.9 L507.7,382.9 L507.9,381.0 L508.0,379.2 L508.0,377.4 L508.0,375.7 L507.8,374.0 L507.5,372.5 L507.1,371.1 L506.6,369.7 L506.0,368.5 L505.3,367.4 L504.5,366.5 L503.7,365.6 L502.7,364.9 L501.7,364.4 L500.6,363.9 L499.4,363.6 L498.2,363.5 L496.9,363.5 L495.6,363.6 L494.2,363.9 L492.8,364.3 L491.3,364.9 L489.8,365.6 L488.3,366.4 L486.8,367.4 L485.3,368.5 L483.8,369.7 L482.4,371.0 L480.9,372.5 L479.5,374.0 L478.0,375.6 L476.7,377.3 L475.4,379.1 L474.1,381.0 L472.9,382.9 L471.8,384.8 L470.7,386.8 L469.7,388.9 L468.8,390.9 L468.0,393.0 L467.3,395.0 L466.7,397.1 L466.1,399.1 L465.7,401.1 L465.3,403.1 L465.1,405.0 L465.0,406.8 L465.0,408.6 L465.0,410.3 L465.2,412.0 L465.5,413.5 L465.9,414.9 L466.4,416.3 L467.0,417.5 L467.7,418.6 L468.5,419.5 L469.3,420.4 L470.3,421.1 L471.3,421.6 L472.4,422.1 L473.6,422.4 L474.8,422.5 L476.1,422.5 L477.4,422.4 L478.8,422.1 L480.2,421.7 L481.7,421.1 L483.2,420.4 L484.7,419.6 L486.2,418.6 L487.7,417.5 L489.2,416.3 L490.6,415.0 L492.1,413.5 L493.5,412.0 L495.0,410.4 L496.3,408.7 L497.6,406.9 L498.9,405.0 L500.1,403.1 L501.2,401.2Z" stroke="#000" fill="none" stroke-width="2.2" stroke-linejoin="round" stroke-linecap="round"/>
<ellipse cx="487.4" cy="392.7" rx="7.6" ry="9.8" transform="rotate(22 487.4 392.7)" stroke="#000" fill="none" stroke-width="2.0" stroke-linejoin="round" stroke-linecap="round"/>
<g transform="translate(302.6,371.6) rotate(-30)"><path d="M0,-4.4 H42 Q45.5,-4.4 45.5,-1 V1 Q45.5,4.4 42,4.4 H0 A2.8,4.4 0 0 1 0,-4.4Z" stroke="#000" fill="none" stroke-width="2.5" stroke-linejoin="round" stroke-linecap="round"/><ellipse cx="-0.3" cy="0" rx="2.0" ry="3.1" stroke="#000" fill="none" stroke-width="2.0" stroke-linejoin="round" stroke-linecap="round"/></g>
<path d="M550.4,431.7 C550.2,433.0 549.1,436.9 549.3,439.3 C549.4,441.6 550.0,444.1 551.1,445.9 C552.1,447.7 553.7,449.3 555.3,450.2 C557.0,451.0 559.1,451.3 561.0,451.1 C562.9,450.9 565.0,450.3 566.7,448.9 C568.4,447.6 570.2,445.5 571.4,443.3 C572.7,441.0 573.7,438.2 574.3,435.7 C574.8,433.2 575.0,430.2 574.8,428.1 C574.5,426.0 572.9,424.0 572.6,423.2 L570.5,424.6 " fill="none"/>
<path d="M550.4,431.7 C549.5,432.6 549.2,437.6 549.3,439.3 C549.3,440.9 550.3,444.6 551.1,445.9 C551.8,447.2 554.2,449.6 555.3,450.2 C556.5,450.8 559.7,451.3 561.0,451.1 C562.3,451.0 565.5,449.9 566.7,448.9 C567.9,448.0 570.6,444.8 571.4,443.3 C572.3,441.7 573.9,437.4 574.3,435.7 C574.7,433.9 575.0,429.6 574.8,428.1 C574.6,426.6 573.1,423.6 572.6,423.2 C572.1,422.8 570.6,423.6 570.5,424.6 C570.4,425.6 571.5,430.1 571.4,431.7 C571.3,433.3 570.3,436.9 569.5,438.3 C568.8,439.8 565.9,443.1 564.8,444.0 C563.7,444.9 561.1,445.9 560.1,445.9 C559.1,445.9 556.9,444.9 556.3,444.0 C555.7,443.1 554.7,439.8 554.8,438.3 C555.0,436.9 557.7,432.5 557.2,431.7 C556.7,430.9 551.3,430.8 550.4,431.7Z" stroke="#000" fill="#fff" stroke-width="2.0" stroke-linejoin="round" stroke-linecap="round"/>
<path d="M552.5,432.8 C552.4,434.1 551.3,438.0 551.7,440.2 C552.1,442.5 553.4,445.0 554.8,446.4 C556.3,447.8 558.6,448.6 560.5,448.6 C562.4,448.6 564.6,447.7 566.2,446.4 C567.9,445.1 569.4,442.8 570.5,440.7 C571.5,438.6 572.2,435.9 572.6,433.6 C572.9,431.3 572.6,428.1 572.6,427.0" stroke="#000" fill="none" stroke-width="1.5" stroke-linejoin="round" stroke-linecap="round"/>
<path d="M551.1,423.9 L556.3,421.7 L559.3,423.0 L559.9,431.2 L557.2,432.2 L551.3,431.7Z" stroke="#000" fill="#fff" stroke-width="2.0" stroke-linejoin="round" stroke-linecap="round"/>
<path d="M551.3,424.1 L554.2,425.5 L559.3,423.2 M554.2,425.5 L554.8,431.7" stroke="#000" fill="none" stroke-width="1.6" stroke-linejoin="round" stroke-linecap="round"/>
<path d="M562.4,417.0 L567.8,414.6 L571.7,416.3 L572.2,423.6 L568.8,424.9 L563.1,424.3Z" stroke="#000" fill="#fff" stroke-width="2.0" stroke-linejoin="round" stroke-linecap="round"/>
<path d="M562.6,417.2 L566.5,419.2 L571.6,416.5 M566.5,419.2 L566.9,424.6" stroke="#000" fill="none" stroke-width="1.6" stroke-linejoin="round" stroke-linecap="round"/>
<text x="174.2" y="98.7" font-family="Liberation Sans" font-size="23" fill="#000" stroke="#000" stroke-width="0.4">7</text>
<text x="476.9" y="306.7" font-family="Liberation Sans" font-size="23" fill="#000" stroke="#000" stroke-width="0.4">2</text>
<text x="315.4" y="419.9" font-family="Liberation Sans" font-size="23" fill="#000" stroke="#000" stroke-width="0.4">6</text>
<text x="555.9" y="495.6" font-family="Liberation Sans" font-size="23" fill="#000" stroke="#000" stroke-width="0.4">5</text>
<path d="M336.3,221.6 Q338.8,220.6 339.6,217.4 L341.6,217.4 L341.6,232.6 L339.2,232.6 L339.2,221.5 Q338,223.2 336.3,223.4Z" fill="#000"/>
<line x1="339.4" y1="238" x2="339.4" y2="289.5" stroke="#000" fill="none" stroke-width="1.15" stroke-linejoin="round" stroke-linecap="round"/>
<line x1="483.2" y1="312" x2="483.2" y2="336" stroke="#000" fill="none" stroke-width="1.15" stroke-linejoin="round" stroke-linecap="round"/>
<line x1="321.4" y1="368" x2="321.4" y2="397.5" stroke="#000" fill="none" stroke-width="1.15" stroke-linejoin="round" stroke-linecap="round"/>
<line x1="562.4" y1="452" x2="562.4" y2="475" stroke="#000" fill="none" stroke-width="1.15" stroke-linejoin="round" stroke-linecap="round"/>
<path d="M122.2,264 L104.5,314.5 L113.5,314.5 L113.5,366.3 L131.3,366.3 L131.3,314.5 L140.3,314.5 Z" fill="none" stroke="#ED1C24" stroke-width="4.5" stroke-linejoin="miter"/>
</svg>
</body></html>
